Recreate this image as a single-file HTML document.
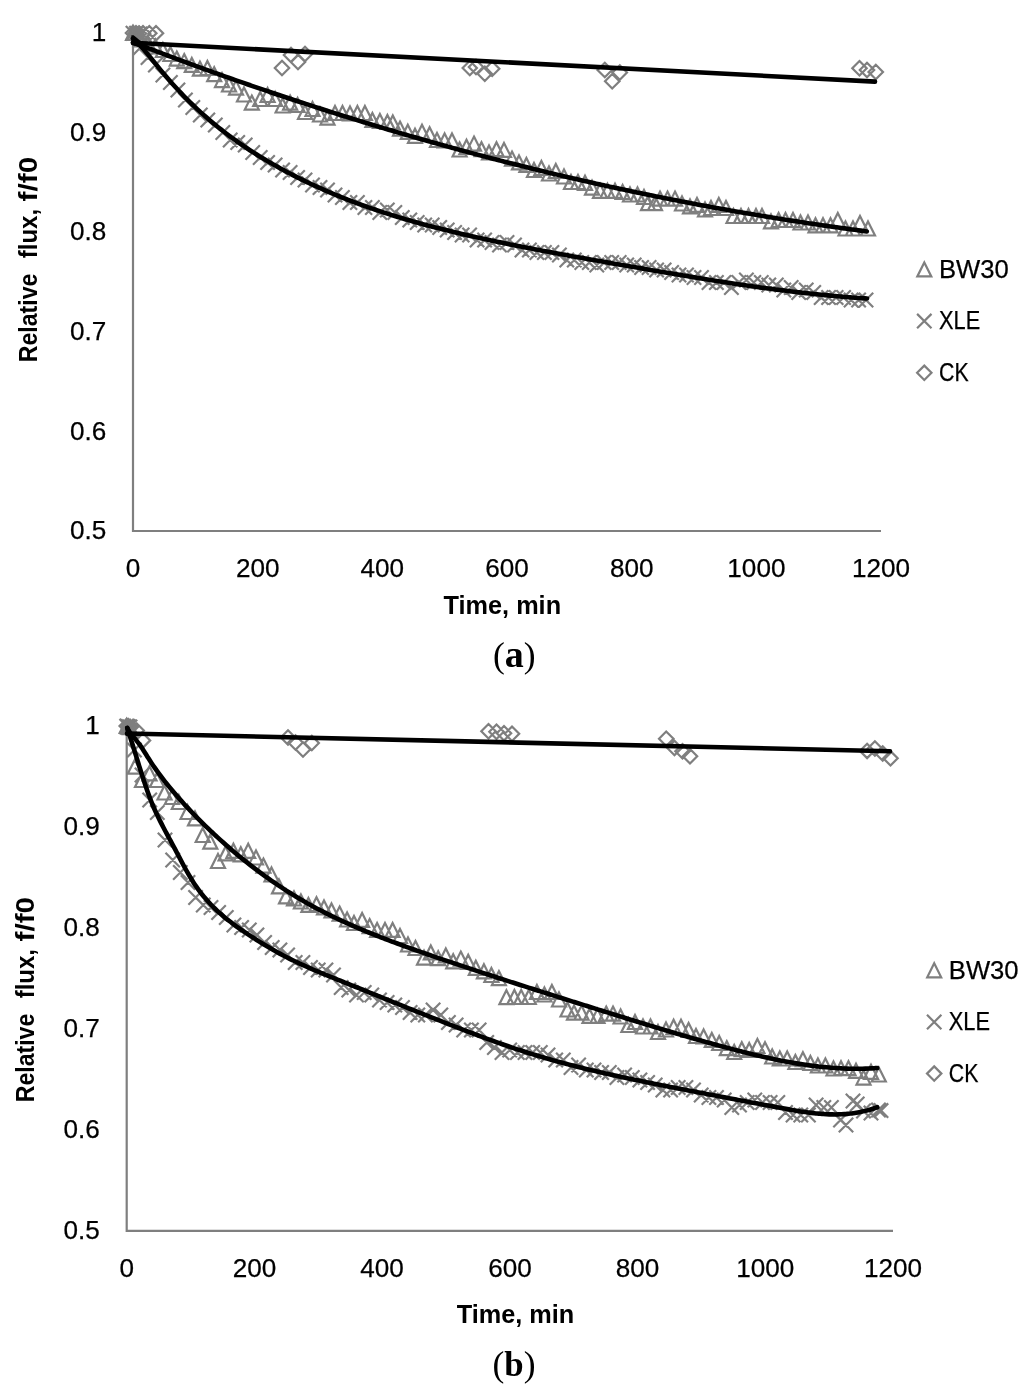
<!DOCTYPE html>
<html lang="en">
<head>
<meta charset="utf-8">
<title>Relative flux vs time</title>
<style>
html,body{margin:0;padding:0;background:#fff;}
body{width:1024px;height:1398px;overflow:hidden;}
svg{display:block;}
.mk{fill:none;stroke:#7f7f7f;stroke-width:2.2;stroke-linejoin:miter;stroke-linecap:butt;}
.ln{fill:none;stroke:#000;stroke-width:4.6;stroke-linecap:round;stroke-linejoin:round;}
.tk{font-family:"Liberation Sans",sans-serif;font-size:26.1px;fill:#000;stroke:#000;stroke-width:0.25;}
.tt{font-family:"Liberation Sans",sans-serif;font-size:25.1px;font-weight:bold;fill:#000;}
.cp{font-family:"Liberation Serif",serif;font-size:35.5px;fill:#000;}
.cb{font-weight:bold;}
</style>
</head>
<body>
<svg width="1024" height="1398" viewBox="0 0 1024 1398">
<rect width="1024" height="1398" fill="#fff"/>
<g id="chart-a">
<path d="M133.00 33.20 V531.00 H881.00" fill="none" stroke="#7f7f7f" stroke-width="2.2" stroke-linejoin="miter"/>
<path class="mk" d="M133.0 26.0 L140.0 40.0 L126.0 40.0 Z M140.5 32.5 L147.5 46.5 L133.5 46.5 Z M148.0 36.0 L155.0 50.0 L141.0 50.0 Z M155.4 39.5 L162.4 53.5 L148.4 53.5 Z M162.9 43.0 L169.9 57.0 L155.9 57.0 Z M170.4 47.0 L177.4 61.0 L163.4 61.0 Z M176.8 51.6 L183.8 65.6 L169.8 65.6 Z M184.2 54.1 L191.2 68.1 L177.2 68.1 Z M191.8 57.9 L198.8 71.9 L184.8 71.9 Z M199.9 61.6 L206.9 75.6 L192.9 75.6 Z M207.4 61.0 L214.4 75.0 L200.4 75.0 Z M214.2 67.2 L221.2 81.2 L207.2 81.2 Z M222.0 73.1 L229.0 87.1 L215.0 87.1 Z M229.0 77.5 L236.0 91.5 L222.0 91.5 Z M236.0 80.6 L243.0 94.6 L229.0 94.6 Z M244.0 87.5 L251.0 101.5 L237.0 101.5 Z M251.8 95.6 L258.8 109.6 L244.8 109.6 Z M260.2 92.0 L267.2 106.0 L253.2 106.0 Z M267.6 88.0 L274.6 102.0 L260.6 102.0 Z M275.1 92.0 L282.1 106.0 L268.1 106.0 Z M282.6 98.5 L289.6 112.5 L275.6 112.5 Z M290.1 95.6 L297.1 109.6 L283.1 109.6 Z M297.6 98.0 L304.6 112.0 L290.6 112.0 Z M305.0 105.0 L312.0 119.0 L298.0 119.0 Z M312.5 102.0 L319.5 116.0 L305.5 116.0 Z M320.0 107.5 L327.0 121.5 L313.0 121.5 Z M327.5 110.6 L334.5 124.6 L320.5 124.6 Z M335.0 106.0 L342.0 120.0 L328.0 120.0 Z M342.5 106.0 L349.5 120.0 L335.5 120.0 Z M350.0 106.5 L357.0 120.5 L343.0 120.5 Z M357.4 106.0 L364.4 120.0 L350.4 120.0 Z M364.9 106.0 L371.9 120.0 L357.9 120.0 Z M372.4 113.0 L379.4 127.0 L365.4 127.0 Z M379.9 114.0 L386.9 128.0 L372.9 128.0 Z M387.4 115.0 L394.4 129.0 L380.4 129.0 Z M392.8 115.4 L399.8 129.4 L385.8 129.4 Z M400.0 121.6 L407.0 135.6 L393.0 135.6 Z M407.8 124.8 L414.8 138.8 L400.8 138.8 Z M415.0 128.8 L422.0 142.8 L408.0 142.8 Z M422.0 124.8 L429.0 138.8 L415.0 138.8 Z M429.6 127.2 L436.6 141.2 L422.6 141.2 Z M437.0 133.0 L444.0 147.0 L430.0 147.0 Z M444.6 133.5 L451.6 147.5 L437.6 147.5 Z M452.0 133.5 L459.0 147.5 L445.0 147.5 Z M459.6 142.5 L466.6 156.5 L452.6 156.5 Z M466.5 139.8 L473.5 153.8 L459.5 153.8 Z M474.0 136.6 L481.0 150.6 L467.0 150.6 Z M481.5 142.2 L488.5 156.2 L474.5 156.2 Z M489.0 145.4 L496.0 159.4 L482.0 159.4 Z M496.5 142.2 L503.5 156.2 L489.5 156.2 Z M504.0 142.9 L511.0 156.9 L497.0 156.9 Z M512.0 151.6 L519.0 165.6 L505.0 165.6 Z M519.0 155.4 L526.0 169.4 L512.0 169.4 Z M526.4 157.9 L533.4 171.9 L519.4 171.9 Z M534.0 163.0 L541.0 177.0 L527.0 177.0 Z M541.4 161.0 L548.4 175.0 L534.4 175.0 Z M549.0 166.5 L556.0 180.5 L542.0 180.5 Z M555.8 164.0 L562.8 178.0 L548.8 178.0 Z M564.0 169.5 L571.0 183.5 L557.0 183.5 Z M571.0 175.0 L578.0 189.0 L564.0 189.0 Z M578.0 175.0 L585.0 189.0 L571.0 189.0 Z M585.0 175.8 L592.0 189.8 L578.0 189.8 Z M592.0 180.6 L599.0 194.6 L585.0 194.6 Z M600.0 183.8 L607.0 197.8 L593.0 197.8 Z M607.5 183.8 L614.5 197.8 L600.5 197.8 Z M615.0 183.8 L622.0 197.8 L608.0 197.8 Z M622.6 185.0 L629.6 199.0 L615.6 199.0 Z M630.0 187.5 L637.0 201.5 L623.0 201.5 Z M637.5 187.5 L644.5 201.5 L630.5 201.5 Z M644.0 190.0 L651.0 204.0 L637.0 204.0 Z M648.0 196.2 L655.0 210.2 L641.0 210.2 Z M655.0 196.2 L662.0 210.2 L648.0 210.2 Z M660.0 191.6 L667.0 205.6 L653.0 205.6 Z M667.5 191.6 L674.5 205.6 L660.5 205.6 Z M675.0 191.6 L682.0 205.6 L668.0 205.6 Z M682.0 196.5 L689.0 210.5 L675.0 210.5 Z M690.0 199.4 L697.0 213.4 L683.0 213.4 Z M697.0 197.9 L704.0 211.9 L690.0 211.9 Z M705.0 202.5 L712.0 216.5 L698.0 216.5 Z M711.0 201.0 L718.0 215.0 L704.0 215.0 Z M718.8 197.9 L725.8 211.9 L711.8 211.9 Z M726.0 201.0 L733.0 215.0 L719.0 215.0 Z M733.5 209.0 L740.5 223.0 L726.5 223.0 Z M741.0 209.0 L748.0 223.0 L734.0 223.0 Z M748.5 209.0 L755.5 223.0 L741.5 223.0 Z M756.0 209.0 L763.0 223.0 L749.0 223.0 Z M762.0 209.0 L769.0 223.0 L755.0 223.0 Z M771.0 214.4 L778.0 228.4 L764.0 228.4 Z M778.6 213.0 L785.6 227.0 L771.6 227.0 Z M785.5 213.0 L792.5 227.0 L778.5 227.0 Z M793.0 213.0 L800.0 227.0 L786.0 227.0 Z M800.5 215.5 L807.5 229.5 L793.5 229.5 Z M808.0 215.5 L815.0 229.5 L801.0 229.5 Z M815.5 218.3 L822.5 232.3 L808.5 232.3 Z M823.0 218.3 L830.0 232.3 L816.0 232.3 Z M830.5 218.3 L837.5 232.3 L823.5 232.3 Z M837.8 213.0 L844.8 227.0 L830.8 227.0 Z M845.5 221.5 L852.5 235.5 L838.5 235.5 Z M853.0 221.5 L860.0 235.5 L846.0 235.5 Z M860.0 216.0 L867.0 230.0 L853.0 230.0 Z M868.0 221.5 L875.0 235.5 L861.0 235.5 Z"/>
<path class="mk" d="M125.8 26.0 L140.2 40.4 M125.8 40.4 L140.2 26.0 M133.3 40.3 L147.7 54.7 M133.3 54.7 L147.7 40.3 M140.8 50.3 L155.2 64.7 M140.8 64.7 L155.2 50.3 M148.2 57.8 L162.6 72.2 M148.2 72.2 L162.6 57.8 M155.7 67.8 L170.1 82.2 M155.7 82.2 L170.1 67.8 M163.2 75.3 L177.6 89.7 M163.2 89.7 L177.6 75.3 M170.7 82.8 L185.1 97.2 M170.7 97.2 L185.1 82.8 M178.2 92.8 L192.6 107.2 M178.2 107.2 L192.6 92.8 M185.6 100.3 L200.0 114.7 M185.6 114.7 L200.0 100.3 M193.1 107.8 L207.5 122.2 M193.1 122.2 L207.5 107.8 M200.6 112.8 L215.0 127.2 M200.6 127.2 L215.0 112.8 M208.1 117.8 L222.5 132.2 M208.1 132.2 L222.5 117.8 M215.6 125.3 L230.0 139.7 M215.6 139.7 L230.0 125.3 M223.0 132.8 L237.4 147.2 M223.0 147.2 L237.4 132.8 M230.5 135.3 L244.9 149.7 M230.5 149.7 L244.9 135.3 M238.0 137.8 L252.4 152.2 M238.0 152.2 L252.4 137.8 M245.5 145.3 L259.9 159.7 M245.5 159.7 L259.9 145.3 M253.0 150.3 L267.4 164.7 M253.0 164.7 L267.4 150.3 M260.4 155.3 L274.8 169.7 M260.4 169.7 L274.8 155.3 M267.9 157.8 L282.3 172.2 M267.9 172.2 L282.3 157.8 M275.4 162.8 L289.8 177.2 M275.4 177.2 L289.8 162.8 M282.9 165.3 L297.3 179.7 M282.9 179.7 L297.3 165.3 M290.4 170.3 L304.8 184.7 M290.4 184.7 L304.8 170.3 M297.8 172.8 L312.2 187.2 M297.8 187.2 L312.2 172.8 M305.3 177.8 L319.7 192.2 M305.3 192.2 L319.7 177.8 M312.8 180.3 L327.2 194.7 M312.8 194.7 L327.2 180.3 M320.3 182.8 L334.7 197.2 M320.3 197.2 L334.7 182.8 M327.8 187.8 L342.2 202.2 M327.8 202.2 L342.2 187.8 M335.2 190.3 L349.6 204.7 M335.2 204.7 L349.6 190.3 M342.7 195.3 L357.1 209.7 M342.7 209.7 L357.1 195.3 M350.2 195.3 L364.6 209.7 M350.2 209.7 L364.6 195.3 M357.7 200.3 L372.1 214.7 M357.7 214.7 L372.1 200.3 M365.2 200.3 L379.6 214.7 M365.2 214.7 L379.6 200.3 M372.6 205.3 L387.0 219.7 M372.6 219.7 L387.0 205.3 M380.1 202.8 L394.5 217.2 M380.1 217.2 L394.5 202.8 M387.6 205.3 L402.0 219.7 M387.6 219.7 L402.0 205.3 M395.1 210.3 L409.5 224.7 M395.1 224.7 L409.5 210.3 M402.6 212.8 L417.0 227.2 M402.6 227.2 L417.0 212.8 M410.0 215.3 L424.4 229.7 M410.0 229.7 L424.4 215.3 M417.5 217.8 L431.9 232.2 M417.5 232.2 L431.9 217.8 M425.0 217.8 L439.4 232.2 M425.0 232.2 L439.4 217.8 M432.5 220.3 L446.9 234.7 M432.5 234.7 L446.9 220.3 M440.0 222.8 L454.4 237.2 M440.0 237.2 L454.4 222.8 M447.4 225.3 L461.8 239.7 M447.4 239.7 L461.8 225.3 M454.9 227.8 L469.3 242.2 M454.9 242.2 L469.3 227.8 M462.4 227.8 L476.8 242.2 M462.4 242.2 L476.8 227.8 M469.9 232.8 L484.3 247.2 M469.9 247.2 L484.3 232.8 M477.4 232.8 L491.8 247.2 M477.4 247.2 L491.8 232.8 M484.8 235.3 L499.2 249.7 M484.8 249.7 L499.2 235.3 M492.3 237.8 L506.7 252.2 M492.3 252.2 L506.7 237.8 M499.8 235.3 L514.2 249.7 M499.8 249.7 L514.2 235.3 M507.3 237.8 L521.7 252.2 M507.3 252.2 L521.7 237.8 M514.8 242.8 L529.2 257.2 M514.8 257.2 L529.2 242.8 M522.2 242.8 L536.6 257.2 M522.2 257.2 L536.6 242.8 M529.7 245.3 L544.1 259.7 M529.7 259.7 L544.1 245.3 M537.2 245.3 L551.6 259.7 M537.2 259.7 L551.6 245.3 M544.7 245.3 L559.1 259.7 M544.7 259.7 L559.1 245.3 M552.2 247.8 L566.6 262.2 M552.2 262.2 L566.6 247.8 M559.6 252.8 L574.0 267.2 M559.6 267.2 L574.0 252.8 M567.1 252.8 L581.5 267.2 M567.1 267.2 L581.5 252.8 M574.6 255.3 L589.0 269.7 M574.6 269.7 L589.0 255.3 M582.1 255.3 L596.5 269.7 M582.1 269.7 L596.5 255.3 M589.6 257.8 L604.0 272.2 M589.6 272.2 L604.0 257.8 M597.0 255.3 L611.4 269.7 M597.0 269.7 L611.4 255.3 M604.5 255.3 L618.9 269.7 M604.5 269.7 L618.9 255.3 M612.0 255.3 L626.4 269.7 M612.0 269.7 L626.4 255.3 M619.5 257.8 L633.9 272.2 M619.5 272.2 L633.9 257.8 M627.0 257.8 L641.4 272.2 M627.0 272.2 L641.4 257.8 M634.4 260.3 L648.8 274.7 M634.4 274.7 L648.8 260.3 M641.9 260.3 L656.3 274.7 M641.9 274.7 L656.3 260.3 M649.4 262.8 L663.8 277.2 M649.4 277.2 L663.8 262.8 M656.9 262.8 L671.3 277.2 M656.9 277.2 L671.3 262.8 M664.4 265.3 L678.8 279.7 M664.4 279.7 L678.8 265.3 M671.8 267.8 L686.2 282.2 M671.8 282.2 L686.2 267.8 M679.3 267.8 L693.7 282.2 M679.3 282.2 L693.7 267.8 M686.8 270.3 L701.2 284.7 M686.8 284.7 L701.2 270.3 M694.3 270.3 L708.7 284.7 M694.3 284.7 L708.7 270.3 M701.8 275.3 L716.2 289.7 M701.8 289.7 L716.2 275.3 M709.2 275.3 L723.6 289.7 M709.2 289.7 L723.6 275.3 M716.7 275.3 L731.1 289.7 M716.7 289.7 L731.1 275.3 M724.2 280.3 L738.6 294.7 M724.2 294.7 L738.6 280.3 M731.7 275.3 L746.1 289.7 M731.7 289.7 L746.1 275.3 M739.2 272.8 L753.6 287.2 M739.2 287.2 L753.6 272.8 M746.6 275.3 L761.0 289.7 M746.6 289.7 L761.0 275.3 M754.1 275.3 L768.5 289.7 M754.1 289.7 L768.5 275.3 M761.6 277.8 L776.0 292.2 M761.6 292.2 L776.0 277.8 M769.1 277.8 L783.5 292.2 M769.1 292.2 L783.5 277.8 M776.6 282.8 L791.0 297.2 M776.6 297.2 L791.0 282.8 M784.0 280.3 L798.4 294.7 M784.0 294.7 L798.4 280.3 M791.5 285.3 L805.9 299.7 M791.5 299.7 L805.9 285.3 M799.0 282.8 L813.4 297.2 M799.0 297.2 L813.4 282.8 M806.5 285.3 L820.9 299.7 M806.5 299.7 L820.9 285.3 M814.0 290.3 L828.4 304.7 M814.0 304.7 L828.4 290.3 M821.4 290.3 L835.8 304.7 M821.4 304.7 L835.8 290.3 M828.9 290.3 L843.3 304.7 M828.9 304.7 L843.3 290.3 M836.4 290.3 L850.8 304.7 M836.4 304.7 L850.8 290.3 M843.9 292.8 L858.3 307.2 M843.9 307.2 L858.3 292.8 M851.4 292.8 L865.8 307.2 M851.4 307.2 L865.8 292.8 M858.8 292.8 L873.2 307.2 M858.8 307.2 L873.2 292.8 M129.3 26.0 L143.7 40.4 M129.3 40.4 L143.7 26.0 M132.8 26.8 L147.2 41.2 M132.8 41.2 L147.2 26.8"/>
<path class="mk" d="M133.0 25.8 L140.2 33.0 L133.0 40.2 L125.8 33.0 Z M136.0 26.0 L143.2 33.2 L136.0 40.4 L128.8 33.2 Z M139.0 26.3 L146.2 33.5 L139.0 40.7 L131.8 33.5 Z M143.0 26.1 L150.2 33.3 L143.0 40.5 L135.8 33.3 Z M149.3 26.0 L156.5 33.2 L149.3 40.4 L142.1 33.2 Z M156.0 26.0 L163.2 33.2 L156.0 40.4 L148.8 33.2 Z M282.0 60.8 L289.2 68.0 L282.0 75.2 L274.8 68.0 Z M291.0 47.8 L298.2 55.0 L291.0 62.2 L283.8 55.0 Z M298.0 54.8 L305.2 62.0 L298.0 69.2 L290.8 62.0 Z M305.0 46.8 L312.2 54.0 L305.0 61.2 L297.8 54.0 Z M469.8 60.8 L476.9 68.0 L469.8 75.2 L462.6 68.0 Z M476.0 59.8 L483.2 67.0 L476.0 74.2 L468.8 67.0 Z M484.8 66.5 L491.9 73.8 L484.8 81.0 L477.6 73.8 Z M492.2 61.5 L499.4 68.8 L492.2 76.0 L485.1 68.8 Z M604.8 62.8 L612.0 70.0 L604.8 77.2 L597.5 70.0 Z M612.2 74.0 L619.5 81.2 L612.2 88.5 L605.0 81.2 Z M619.8 65.3 L627.0 72.5 L619.8 79.7 L612.5 72.5 Z M859.5 61.0 L866.7 68.2 L859.5 75.5 L852.3 68.2 Z M867.0 62.8 L874.2 70.0 L867.0 77.2 L859.8 70.0 Z M875.8 64.8 L883.0 72.0 L875.8 79.2 L868.5 72.0 Z"/>
<path class="ln" d="M133.00 42.80 L875.00 81.60"/>
<path class="ln" d="M133.00 42.54 C133.50 42.72 135.00 43.25 136.01 43.61 C137.01 43.97 138.01 44.35 139.01 44.72 C140.02 45.09 141.02 45.47 142.02 45.85 C143.02 46.22 144.03 46.60 145.03 46.98 C146.03 47.36 147.03 47.74 148.04 48.12 C149.04 48.50 150.04 48.88 151.04 49.26 C152.05 49.64 153.05 50.02 154.05 50.40 C155.05 50.78 156.06 51.16 157.06 51.54 C158.06 51.92 159.06 52.29 160.07 52.67 C161.07 53.05 162.07 53.43 163.07 53.81 C164.08 54.19 165.08 54.56 166.08 54.94 C167.08 55.32 168.09 55.69 169.09 56.07 C170.09 56.45 171.09 56.82 172.10 57.20 C173.10 57.57 174.10 57.95 175.10 58.32 C176.11 58.69 177.11 59.07 178.11 59.44 C179.11 59.81 180.12 60.18 181.12 60.56 C182.12 60.93 183.12 61.30 184.13 61.67 C185.13 62.04 186.13 62.41 187.13 62.78 C188.14 63.15 189.14 63.52 190.14 63.89 C191.14 64.25 192.15 64.62 193.15 64.99 C194.15 65.35 195.15 65.72 196.15 66.09 C197.16 66.45 198.16 66.82 199.16 67.18 C200.16 67.55 201.17 67.91 202.17 68.27 C203.17 68.64 204.17 69.00 205.18 69.36 C206.18 69.73 207.18 70.09 208.18 70.45 C209.19 70.81 210.19 71.17 211.19 71.53 C212.19 71.89 213.20 72.25 214.20 72.61 C215.20 72.97 216.20 73.32 217.21 73.68 C218.21 74.04 219.21 74.40 220.21 74.75 C221.22 75.11 222.22 75.47 223.22 75.82 C224.22 76.18 225.23 76.53 226.23 76.89 C227.23 77.24 228.23 77.59 229.24 77.95 C230.24 78.30 231.24 78.65 232.24 79.00 C233.25 79.36 234.25 79.71 235.25 80.06 C236.25 80.41 237.26 80.76 238.26 81.11 C239.26 81.46 240.26 81.81 241.27 82.16 C242.27 82.51 243.27 82.85 244.27 83.20 C245.28 83.55 246.28 83.90 247.28 84.24 C248.28 84.59 249.29 84.93 250.29 85.28 C251.29 85.63 252.29 85.97 253.30 86.31 C254.30 86.66 255.30 87.00 256.30 87.35 C257.30 87.69 258.31 88.03 259.31 88.37 C260.31 88.72 261.31 89.06 262.32 89.40 C263.32 89.74 264.32 90.08 265.32 90.42 C266.33 90.76 267.33 91.10 268.33 91.44 C269.33 91.78 270.34 92.12 271.34 92.46 C272.34 92.79 273.34 93.13 274.35 93.47 C275.35 93.81 276.35 94.14 277.35 94.48 C278.36 94.82 279.36 95.15 280.36 95.49 C281.36 95.82 282.37 96.16 283.37 96.49 C284.37 96.82 285.37 97.16 286.38 97.49 C287.38 97.82 288.38 98.16 289.38 98.49 C290.39 98.82 291.39 99.15 292.39 99.48 C293.39 99.82 294.40 100.15 295.40 100.48 C296.40 100.81 297.40 101.14 298.41 101.47 C299.41 101.79 300.41 102.12 301.41 102.45 C302.42 102.78 303.42 103.11 304.42 103.43 C305.42 103.76 306.43 104.09 307.43 104.41 C308.43 104.74 309.43 105.07 310.44 105.39 C311.44 105.72 312.44 106.04 313.44 106.37 C314.45 106.69 315.45 107.01 316.45 107.34 C317.45 107.66 318.45 107.98 319.46 108.30 C320.46 108.63 321.46 108.95 322.46 109.27 C323.47 109.59 324.47 109.91 325.47 110.23 C326.47 110.55 327.48 110.87 328.48 111.19 C329.48 111.51 330.48 111.83 331.49 112.14 C332.49 112.46 333.49 112.78 334.49 113.10 C335.50 113.41 336.50 113.73 337.50 114.05 C338.50 114.36 339.51 114.68 340.51 114.99 C341.51 115.31 342.51 115.62 343.52 115.93 C344.52 116.25 345.52 116.56 346.52 116.87 C347.53 117.19 348.53 117.50 349.53 117.81 C350.53 118.12 351.54 118.43 352.54 118.74 C353.54 119.05 354.54 119.36 355.55 119.67 C356.55 119.98 357.55 120.29 358.55 120.60 C359.56 120.91 360.56 121.21 361.56 121.52 C362.56 121.83 363.57 122.13 364.57 122.44 C365.57 122.75 366.57 123.05 367.58 123.36 C368.58 123.66 369.58 123.97 370.58 124.27 C371.59 124.57 372.59 124.88 373.59 125.18 C374.59 125.48 375.60 125.79 376.60 126.09 C377.60 126.39 378.60 126.69 379.60 126.99 C380.61 127.29 381.61 127.59 382.61 127.89 C383.61 128.19 384.62 128.49 385.62 128.79 C386.62 129.09 387.62 129.39 388.63 129.68 C389.63 129.98 390.63 130.28 391.63 130.57 C392.64 130.87 393.64 131.17 394.64 131.46 C395.64 131.76 396.65 132.05 397.65 132.35 C398.65 132.64 399.65 132.93 400.66 133.23 C401.66 133.52 402.66 133.81 403.66 134.10 C404.67 134.40 405.67 134.69 406.67 134.98 C407.67 135.27 408.68 135.56 409.68 135.85 C410.68 136.14 411.68 136.43 412.69 136.72 C413.69 137.01 414.69 137.30 415.69 137.58 C416.70 137.87 417.70 138.16 418.70 138.44 C419.70 138.73 420.71 139.02 421.71 139.30 C422.71 139.59 423.71 139.87 424.72 140.16 C425.72 140.44 426.72 140.73 427.72 141.01 C428.73 141.29 429.73 141.58 430.73 141.86 C431.73 142.14 432.74 142.42 433.74 142.70 C434.74 142.99 435.74 143.27 436.75 143.55 C437.75 143.83 438.75 144.11 439.75 144.39 C440.75 144.66 441.76 144.94 442.76 145.22 C443.76 145.50 444.76 145.78 445.77 146.05 C446.77 146.33 447.77 146.61 448.77 146.88 C449.78 147.16 450.78 147.43 451.78 147.71 C452.78 147.98 453.79 148.26 454.79 148.53 C455.79 148.81 456.79 149.08 457.80 149.35 C458.80 149.63 459.80 149.90 460.80 150.17 C461.81 150.44 462.81 150.71 463.81 150.98 C464.81 151.25 465.82 151.52 466.82 151.79 C467.82 152.06 468.82 152.33 469.83 152.60 C470.83 152.87 471.83 153.14 472.83 153.40 C473.84 153.67 474.84 153.94 475.84 154.21 C476.84 154.47 477.85 154.74 478.85 155.00 C479.85 155.27 480.85 155.53 481.86 155.80 C482.86 156.06 483.86 156.33 484.86 156.59 C485.87 156.85 486.87 157.11 487.87 157.38 C488.87 157.64 489.88 157.90 490.88 158.16 C491.88 158.42 492.88 158.68 493.89 158.94 C494.89 159.20 495.89 159.46 496.89 159.72 C497.90 159.98 498.90 160.24 499.90 160.50 C500.90 160.76 501.90 161.01 502.91 161.27 C503.91 161.53 504.91 161.78 505.91 162.04 C506.92 162.30 507.92 162.55 508.92 162.81 C509.92 163.06 510.93 163.32 511.93 163.57 C512.93 163.82 513.93 164.08 514.94 164.33 C515.94 164.58 516.94 164.83 517.94 165.09 C518.95 165.34 519.95 165.59 520.95 165.84 C521.95 166.09 522.96 166.34 523.96 166.59 C524.96 166.84 525.96 167.09 526.97 167.34 C527.97 167.58 528.97 167.83 529.97 168.08 C530.98 168.33 531.98 168.57 532.98 168.82 C533.98 169.07 534.99 169.31 535.99 169.56 C536.99 169.80 537.99 170.05 539.00 170.29 C540.00 170.54 541.00 170.78 542.00 171.02 C543.01 171.27 544.01 171.51 545.01 171.75 C546.01 171.99 547.02 172.23 548.02 172.48 C549.02 172.72 550.02 172.96 551.03 173.20 C552.03 173.44 553.03 173.68 554.03 173.92 C555.04 174.15 556.04 174.39 557.04 174.63 C558.04 174.87 559.05 175.11 560.05 175.34 C561.05 175.58 562.05 175.81 563.05 176.05 C564.06 176.29 565.06 176.52 566.06 176.76 C567.06 176.99 568.07 177.22 569.07 177.46 C570.07 177.69 571.07 177.92 572.08 178.16 C573.08 178.39 574.08 178.62 575.08 178.85 C576.09 179.08 577.09 179.32 578.09 179.55 C579.09 179.78 580.10 180.01 581.10 180.24 C582.10 180.46 583.10 180.69 584.11 180.92 C585.11 181.15 586.11 181.38 587.11 181.60 C588.12 181.83 589.12 182.06 590.12 182.28 C591.12 182.51 592.13 182.74 593.13 182.96 C594.13 183.19 595.13 183.41 596.14 183.63 C597.14 183.86 598.14 184.08 599.14 184.30 C600.15 184.53 601.15 184.75 602.15 184.97 C603.15 185.19 604.16 185.41 605.16 185.64 C606.16 185.86 607.16 186.08 608.17 186.30 C609.17 186.52 610.17 186.73 611.17 186.95 C612.18 187.17 613.18 187.39 614.18 187.61 C615.18 187.83 616.19 188.04 617.19 188.26 C618.19 188.48 619.19 188.69 620.20 188.91 C621.20 189.12 622.20 189.34 623.20 189.55 C624.20 189.77 625.21 189.98 626.21 190.19 C627.21 190.41 628.21 190.62 629.22 190.83 C630.22 191.04 631.22 191.26 632.22 191.47 C633.23 191.68 634.23 191.89 635.23 192.10 C636.23 192.31 637.24 192.52 638.24 192.73 C639.24 192.94 640.24 193.15 641.25 193.35 C642.25 193.56 643.25 193.77 644.25 193.98 C645.26 194.18 646.26 194.39 647.26 194.59 C648.26 194.80 649.27 195.01 650.27 195.21 C651.27 195.42 652.27 195.62 653.28 195.82 C654.28 196.03 655.28 196.23 656.28 196.43 C657.29 196.64 658.29 196.84 659.29 197.04 C660.29 197.24 661.30 197.44 662.30 197.64 C663.30 197.84 664.30 198.04 665.31 198.24 C666.31 198.44 667.31 198.64 668.31 198.84 C669.32 199.04 670.32 199.24 671.32 199.44 C672.32 199.63 673.33 199.83 674.33 200.03 C675.33 200.22 676.33 200.42 677.34 200.61 C678.34 200.81 679.34 201.00 680.34 201.20 C681.35 201.39 682.35 201.59 683.35 201.78 C684.35 201.97 685.35 202.17 686.36 202.36 C687.36 202.55 688.36 202.74 689.36 202.93 C690.37 203.12 691.37 203.32 692.37 203.51 C693.37 203.70 694.38 203.89 695.38 204.07 C696.38 204.26 697.38 204.45 698.39 204.64 C699.39 204.83 700.39 205.02 701.39 205.20 C702.40 205.39 703.40 205.58 704.40 205.76 C705.40 205.95 706.41 206.13 707.41 206.32 C708.41 206.50 709.41 206.69 710.42 206.87 C711.42 207.06 712.42 207.24 713.42 207.42 C714.43 207.61 715.43 207.79 716.43 207.97 C717.43 208.15 718.44 208.33 719.44 208.51 C720.44 208.69 721.44 208.87 722.45 209.05 C723.45 209.23 724.45 209.41 725.45 209.59 C726.46 209.77 727.46 209.95 728.46 210.13 C729.46 210.30 730.47 210.48 731.47 210.66 C732.47 210.83 733.47 211.01 734.48 211.19 C735.48 211.36 736.48 211.54 737.48 211.71 C738.49 211.89 739.49 212.06 740.49 212.23 C741.49 212.41 742.50 212.58 743.50 212.75 C744.50 212.93 745.50 213.10 746.50 213.27 C747.51 213.44 748.51 213.61 749.51 213.78 C750.51 213.95 751.52 214.12 752.52 214.29 C753.52 214.46 754.52 214.63 755.53 214.80 C756.53 214.97 757.53 215.14 758.53 215.30 C759.54 215.47 760.54 215.64 761.54 215.80 C762.54 215.97 763.55 216.14 764.55 216.30 C765.55 216.47 766.55 216.63 767.56 216.80 C768.56 216.96 769.56 217.12 770.56 217.29 C771.57 217.45 772.57 217.61 773.57 217.78 C774.57 217.94 775.58 218.10 776.58 218.26 C777.58 218.42 778.58 218.58 779.59 218.74 C780.59 218.90 781.59 219.06 782.59 219.22 C783.60 219.38 784.60 219.54 785.60 219.70 C786.60 219.86 787.61 220.01 788.61 220.17 C789.61 220.33 790.61 220.49 791.62 220.64 C792.62 220.80 793.62 220.95 794.62 221.11 C795.63 221.26 796.63 221.42 797.63 221.57 C798.63 221.73 799.64 221.88 800.64 222.03 C801.64 222.19 802.64 222.34 803.65 222.49 C804.65 222.64 805.65 222.80 806.65 222.95 C807.65 223.10 808.66 223.25 809.66 223.40 C810.66 223.55 811.66 223.70 812.67 223.85 C813.67 224.00 814.67 224.15 815.67 224.29 C816.68 224.44 817.68 224.59 818.68 224.74 C819.68 224.88 820.69 225.03 821.69 225.18 C822.69 225.32 823.69 225.47 824.70 225.61 C825.70 225.76 826.70 225.90 827.70 226.05 C828.71 226.19 829.71 226.33 830.71 226.48 C831.71 226.62 832.72 226.76 833.72 226.91 C834.72 227.05 835.72 227.19 836.73 227.33 C837.73 227.47 838.73 227.61 839.73 227.75 C840.74 227.89 841.74 228.03 842.74 228.17 C843.74 228.31 844.75 228.45 845.75 228.59 C846.75 228.73 847.75 228.86 848.76 229.00 C849.76 229.14 850.76 229.27 851.76 229.41 C852.77 229.55 853.77 229.68 854.77 229.82 C855.77 229.95 856.78 230.09 857.78 230.22 C858.78 230.36 859.78 230.49 860.79 230.62 C861.79 230.76 862.79 230.89 863.79 231.02 C864.80 231.15 866.30 231.35 866.80 231.42"/>
<path class="ln" d="M133.00 38.56 C133.50 39.01 135.01 40.31 136.01 41.27 C137.01 42.23 138.01 43.26 139.02 44.31 C140.02 45.36 141.02 46.45 142.02 47.57 C143.03 48.69 144.03 49.84 145.03 51.01 C146.04 52.18 147.04 53.39 148.04 54.60 C149.04 55.81 150.05 57.05 151.05 58.28 C152.05 59.50 153.05 60.75 154.06 61.98 C155.06 63.21 156.06 64.45 157.07 65.68 C158.07 66.91 159.07 68.13 160.07 69.35 C161.08 70.56 162.08 71.77 163.08 72.97 C164.08 74.16 165.09 75.35 166.09 76.53 C167.09 77.70 168.10 78.87 169.10 80.02 C170.10 81.17 171.10 82.30 172.11 83.43 C173.11 84.55 174.11 85.66 175.11 86.76 C176.12 87.86 177.12 88.94 178.12 90.01 C179.13 91.09 180.13 92.15 181.13 93.20 C182.13 94.25 183.14 95.28 184.14 96.31 C185.14 97.34 186.14 98.35 187.15 99.36 C188.15 100.36 189.15 101.35 190.16 102.34 C191.16 103.32 192.16 104.29 193.16 105.25 C194.17 106.21 195.17 107.16 196.17 108.11 C197.17 109.05 198.18 109.98 199.18 110.90 C200.18 111.82 201.19 112.73 202.19 113.63 C203.19 114.53 204.19 115.43 205.20 116.31 C206.20 117.19 207.20 118.07 208.20 118.93 C209.21 119.79 210.21 120.65 211.21 121.50 C212.22 122.34 213.22 123.18 214.22 124.01 C215.22 124.84 216.23 125.66 217.23 126.47 C218.23 127.28 219.23 128.08 220.24 128.87 C221.24 129.67 222.24 130.45 223.25 131.23 C224.25 132.01 225.25 132.78 226.25 133.54 C227.26 134.30 228.26 135.05 229.26 135.80 C230.27 136.55 231.27 137.29 232.27 138.02 C233.27 138.75 234.28 139.47 235.28 140.19 C236.28 140.91 237.28 141.62 238.29 142.32 C239.29 143.03 240.29 143.72 241.30 144.41 C242.30 145.10 243.30 145.79 244.30 146.47 C245.31 147.14 246.31 147.81 247.31 148.48 C248.31 149.15 249.32 149.80 250.32 150.46 C251.32 151.11 252.33 151.76 253.33 152.40 C254.33 153.04 255.33 153.68 256.34 154.31 C257.34 154.94 258.34 155.57 259.34 156.19 C260.35 156.80 261.35 157.42 262.35 158.03 C263.36 158.64 264.36 159.24 265.36 159.84 C266.36 160.44 267.37 161.03 268.37 161.62 C269.37 162.21 270.37 162.79 271.38 163.37 C272.38 163.95 273.38 164.53 274.39 165.09 C275.39 165.66 276.39 166.23 277.39 166.79 C278.40 167.35 279.40 167.90 280.40 168.46 C281.40 169.01 282.41 169.55 283.41 170.10 C284.41 170.64 285.42 171.18 286.42 171.71 C287.42 172.24 288.42 172.77 289.43 173.30 C290.43 173.82 291.43 174.34 292.43 174.86 C293.44 175.38 294.44 175.89 295.44 176.40 C296.45 176.91 297.45 177.41 298.45 177.91 C299.45 178.41 300.46 178.91 301.46 179.40 C302.46 179.90 303.46 180.39 304.47 180.87 C305.47 181.36 306.47 181.84 307.48 182.32 C308.48 182.79 309.48 183.27 310.48 183.74 C311.49 184.21 312.49 184.68 313.49 185.14 C314.49 185.60 315.50 186.06 316.50 186.52 C317.50 186.98 318.51 187.43 319.51 187.88 C320.51 188.33 321.51 188.78 322.52 189.22 C323.52 189.66 324.52 190.10 325.52 190.54 C326.53 190.97 327.53 191.41 328.53 191.84 C329.54 192.27 330.54 192.69 331.54 193.12 C332.54 193.54 333.55 193.96 334.55 194.38 C335.55 194.79 336.55 195.21 337.56 195.62 C338.56 196.03 339.56 196.44 340.57 196.84 C341.57 197.25 342.57 197.65 343.57 198.05 C344.58 198.45 345.58 198.84 346.58 199.24 C347.58 199.63 348.59 200.02 349.59 200.41 C350.59 200.79 351.60 201.18 352.60 201.56 C353.60 201.94 354.60 202.32 355.61 202.69 C356.61 203.07 357.61 203.44 358.61 203.81 C359.62 204.18 360.62 204.55 361.62 204.91 C362.63 205.28 363.63 205.64 364.63 206.00 C365.63 206.36 366.64 206.72 367.64 207.07 C368.64 207.42 369.64 207.77 370.65 208.12 C371.65 208.47 372.65 208.82 373.66 209.16 C374.66 209.50 375.66 209.85 376.66 210.18 C377.67 210.52 378.67 210.86 379.67 211.19 C380.67 211.52 381.68 211.86 382.68 212.18 C383.68 212.51 384.69 212.84 385.69 213.16 C386.69 213.49 387.69 213.81 388.70 214.12 C389.70 214.44 390.70 214.76 391.70 215.07 C392.71 215.39 393.71 215.70 394.71 216.01 C395.72 216.32 396.72 216.62 397.72 216.93 C398.72 217.23 399.73 217.54 400.73 217.84 C401.73 218.14 402.73 218.43 403.74 218.73 C404.74 219.03 405.74 219.32 406.75 219.61 C407.75 219.90 408.75 220.19 409.75 220.48 C410.76 220.77 411.76 221.06 412.76 221.34 C413.77 221.62 414.77 221.91 415.77 222.19 C416.77 222.47 417.78 222.75 418.78 223.02 C419.78 223.30 420.78 223.57 421.79 223.85 C422.79 224.12 423.79 224.39 424.80 224.66 C425.80 224.93 426.80 225.20 427.80 225.46 C428.81 225.73 429.81 225.99 430.81 226.26 C431.81 226.52 432.82 226.78 433.82 227.04 C434.82 227.30 435.83 227.56 436.83 227.82 C437.83 228.07 438.83 228.33 439.84 228.58 C440.84 228.83 441.84 229.09 442.84 229.34 C443.85 229.59 444.85 229.84 445.85 230.08 C446.86 230.33 447.86 230.58 448.86 230.82 C449.86 231.07 450.87 231.31 451.87 231.55 C452.87 231.80 453.87 232.04 454.88 232.28 C455.88 232.52 456.88 232.76 457.89 232.99 C458.89 233.23 459.89 233.47 460.89 233.70 C461.90 233.93 462.90 234.17 463.90 234.40 C464.90 234.63 465.91 234.86 466.91 235.09 C467.91 235.32 468.92 235.55 469.92 235.78 C470.92 236.01 471.92 236.23 472.93 236.46 C473.93 236.68 474.93 236.91 475.93 237.13 C476.94 237.36 477.94 237.58 478.94 237.80 C479.95 238.02 480.95 238.24 481.95 238.46 C482.95 238.68 483.96 238.90 484.96 239.11 C485.96 239.33 486.96 239.55 487.97 239.76 C488.97 239.98 489.97 240.19 490.98 240.41 C491.98 240.62 492.98 240.83 493.98 241.04 C494.99 241.26 495.99 241.47 496.99 241.68 C497.99 241.89 499.00 242.10 500.00 242.30 C501.00 242.51 502.01 242.72 503.01 242.93 C504.01 243.13 505.01 243.34 506.02 243.55 C507.02 243.75 508.02 243.95 509.02 244.16 C510.03 244.36 511.03 244.56 512.03 244.77 C513.04 244.97 514.04 245.17 515.04 245.37 C516.04 245.57 517.05 245.77 518.05 245.97 C519.05 246.17 520.05 246.37 521.06 246.57 C522.06 246.77 523.06 246.96 524.07 247.16 C525.07 247.36 526.07 247.55 527.07 247.75 C528.08 247.94 529.08 248.14 530.08 248.33 C531.08 248.53 532.09 248.72 533.09 248.91 C534.09 249.11 535.10 249.30 536.10 249.49 C537.10 249.68 538.10 249.88 539.11 250.07 C540.11 250.26 541.11 250.45 542.11 250.64 C543.12 250.83 544.12 251.02 545.12 251.21 C546.13 251.39 547.13 251.58 548.13 251.77 C549.13 251.96 550.14 252.15 551.14 252.33 C552.14 252.52 553.14 252.71 554.15 252.89 C555.15 253.08 556.15 253.26 557.16 253.45 C558.16 253.64 559.16 253.82 560.16 254.00 C561.17 254.19 562.17 254.37 563.17 254.56 C564.17 254.74 565.18 254.92 566.18 255.11 C567.18 255.29 568.19 255.47 569.19 255.65 C570.19 255.84 571.19 256.02 572.20 256.20 C573.20 256.38 574.20 256.56 575.20 256.74 C576.21 256.92 577.21 257.10 578.21 257.28 C579.22 257.46 580.22 257.64 581.22 257.82 C582.22 258.00 583.23 258.18 584.23 258.36 C585.23 258.54 586.23 258.72 587.24 258.90 C588.24 259.08 589.24 259.25 590.25 259.43 C591.25 259.61 592.25 259.79 593.25 259.97 C594.26 260.14 595.26 260.32 596.26 260.50 C597.27 260.67 598.27 260.85 599.27 261.03 C600.27 261.20 601.28 261.38 602.28 261.56 C603.28 261.73 604.28 261.91 605.29 262.09 C606.29 262.26 607.29 262.44 608.30 262.61 C609.30 262.79 610.30 262.96 611.30 263.14 C612.31 263.31 613.31 263.49 614.31 263.66 C615.31 263.84 616.32 264.01 617.32 264.19 C618.32 264.36 619.33 264.54 620.33 264.71 C621.33 264.88 622.33 265.06 623.34 265.23 C624.34 265.41 625.34 265.58 626.34 265.75 C627.35 265.93 628.35 266.10 629.35 266.28 C630.36 266.45 631.36 266.62 632.36 266.80 C633.36 266.97 634.37 267.14 635.37 267.32 C636.37 267.49 637.37 267.66 638.38 267.84 C639.38 268.01 640.38 268.18 641.39 268.36 C642.39 268.53 643.39 268.70 644.39 268.88 C645.40 269.05 646.40 269.22 647.40 269.40 C648.40 269.57 649.41 269.74 650.41 269.91 C651.41 270.09 652.42 270.26 653.42 270.43 C654.42 270.60 655.42 270.78 656.43 270.95 C657.43 271.12 658.43 271.29 659.43 271.47 C660.44 271.64 661.44 271.81 662.44 271.98 C663.45 272.15 664.45 272.33 665.45 272.50 C666.45 272.67 667.46 272.84 668.46 273.01 C669.46 273.18 670.46 273.35 671.47 273.52 C672.47 273.69 673.47 273.86 674.48 274.03 C675.48 274.20 676.48 274.37 677.48 274.54 C678.49 274.71 679.49 274.88 680.49 275.05 C681.49 275.22 682.50 275.39 683.50 275.55 C684.50 275.72 685.51 275.89 686.51 276.06 C687.51 276.22 688.51 276.39 689.52 276.56 C690.52 276.73 691.52 276.89 692.52 277.06 C693.53 277.22 694.53 277.39 695.53 277.55 C696.54 277.72 697.54 277.88 698.54 278.05 C699.54 278.21 700.55 278.37 701.55 278.54 C702.55 278.70 703.55 278.86 704.56 279.03 C705.56 279.19 706.56 279.35 707.57 279.51 C708.57 279.67 709.57 279.83 710.57 279.99 C711.58 280.15 712.58 280.31 713.58 280.47 C714.58 280.63 715.59 280.79 716.59 280.95 C717.59 281.11 718.60 281.26 719.60 281.42 C720.60 281.58 721.60 281.73 722.61 281.89 C723.61 282.05 724.61 282.20 725.61 282.35 C726.62 282.51 727.62 282.66 728.62 282.82 C729.63 282.97 730.63 283.12 731.63 283.27 C732.63 283.43 733.64 283.58 734.64 283.73 C735.64 283.88 736.64 284.03 737.65 284.18 C738.65 284.33 739.65 284.48 740.66 284.62 C741.66 284.77 742.66 284.92 743.66 285.07 C744.67 285.21 745.67 285.36 746.67 285.50 C747.67 285.65 748.68 285.79 749.68 285.94 C750.68 286.08 751.69 286.22 752.69 286.36 C753.69 286.51 754.69 286.65 755.70 286.79 C756.70 286.93 757.70 287.07 758.70 287.21 C759.71 287.35 760.71 287.49 761.71 287.62 C762.72 287.76 763.72 287.90 764.72 288.03 C765.72 288.17 766.73 288.30 767.73 288.44 C768.73 288.57 769.73 288.70 770.74 288.84 C771.74 288.97 772.74 289.10 773.75 289.23 C774.75 289.36 775.75 289.49 776.75 289.62 C777.76 289.75 778.76 289.88 779.76 290.01 C780.77 290.13 781.77 290.26 782.77 290.38 C783.77 290.51 784.78 290.63 785.78 290.76 C786.78 290.88 787.78 291.00 788.79 291.13 C789.79 291.25 790.79 291.37 791.80 291.49 C792.80 291.61 793.80 291.73 794.80 291.85 C795.81 291.96 796.81 292.08 797.81 292.20 C798.81 292.31 799.82 292.43 800.82 292.54 C801.82 292.66 802.83 292.77 803.83 292.88 C804.83 292.99 805.83 293.11 806.84 293.22 C807.84 293.33 808.84 293.44 809.84 293.54 C810.85 293.65 811.85 293.76 812.85 293.87 C813.86 293.97 814.86 294.08 815.86 294.18 C816.86 294.29 817.87 294.39 818.87 294.49 C819.87 294.59 820.87 294.69 821.88 294.79 C822.88 294.89 823.88 294.99 824.89 295.09 C825.89 295.19 826.89 295.29 827.89 295.38 C828.90 295.48 829.90 295.57 830.90 295.66 C831.90 295.76 832.91 295.85 833.91 295.94 C834.91 296.03 835.92 296.12 836.92 296.21 C837.92 296.30 838.92 296.39 839.93 296.48 C840.93 296.56 841.93 296.65 842.93 296.73 C843.94 296.82 844.94 296.90 845.94 296.99 C846.95 297.07 847.95 297.15 848.95 297.23 C849.95 297.31 850.96 297.39 851.96 297.47 C852.96 297.54 853.96 297.62 854.97 297.70 C855.97 297.77 856.97 297.85 857.98 297.92 C858.98 297.99 859.98 298.07 860.98 298.14 C861.99 298.21 862.99 298.28 863.99 298.35 C864.99 298.41 866.50 298.51 867.00 298.55"/>
<path d="M131.4 35.2 L133.6 35.2 L142.5 42.5 L140 47 L131.4 45 Z" fill="#000"/>
<text class="tk" x="106.2" y="41.3" text-anchor="end">1</text>
<text class="tk" x="106.2" y="140.9" text-anchor="end">0.9</text>
<text class="tk" x="106.2" y="240.4" text-anchor="end">0.8</text>
<text class="tk" x="106.2" y="340.0" text-anchor="end">0.7</text>
<text class="tk" x="106.2" y="439.5" text-anchor="end">0.6</text>
<text class="tk" x="106.2" y="539.1" text-anchor="end">0.5</text>
<text class="tk" x="133.0" y="576.7" text-anchor="middle">0</text>
<text class="tk" x="257.7" y="576.7" text-anchor="middle">200</text>
<text class="tk" x="382.3" y="576.7" text-anchor="middle">400</text>
<text class="tk" x="507.0" y="576.7" text-anchor="middle">600</text>
<text class="tk" x="631.7" y="576.7" text-anchor="middle">800</text>
<text class="tk" x="756.4" y="576.7" text-anchor="middle">1000</text>
<text class="tk" x="881.0" y="576.7" text-anchor="middle">1200</text>
<text class="tt" x="502.3" y="613.9" text-anchor="middle" textLength="117.6" lengthAdjust="spacingAndGlyphs">Time, min</text>
<text class="tt" transform="translate(37.0 362.2) rotate(-90)" textLength="88.6" lengthAdjust="spacingAndGlyphs">Relative</text>
<text class="tt" transform="translate(37.0 258.2) rotate(-90)" textLength="49.3" lengthAdjust="spacingAndGlyphs">flux,</text>
<text class="tt" transform="translate(37.0 201.4) rotate(-90)" textLength="44.6" lengthAdjust="spacingAndGlyphs">f/f0</text>
<text class="cp" x="514.3" y="667.0" text-anchor="middle">(<tspan class="cb" font-size="38">a</tspan>)</text>
<path class="mk" d="M924.3 262.4 L931.3 276.4 L917.3 276.4 Z"/>
<path class="mk" d="M917.1 313.9 L931.5 328.3 M917.1 328.3 L931.5 313.9"/>
<path class="mk" d="M924.3 365.6 L931.5 372.8 L924.3 380.0 L917.1 372.8 Z"/>
<text class="tk" x="939.0" y="277.6" textLength="69.8" lengthAdjust="spacingAndGlyphs">BW30</text>
<text class="tk" x="939.0" y="329.2" textLength="41.2" lengthAdjust="spacingAndGlyphs">XLE</text>
<text class="tk" x="939.0" y="380.9" textLength="29.6" lengthAdjust="spacingAndGlyphs">CK</text>
</g>
<g id="chart-b">
<path d="M126.70 726.10 V1230.80 H893.00" fill="none" stroke="#7f7f7f" stroke-width="2.2" stroke-linejoin="miter"/>
<path class="mk" d="M126.7 719.0 L133.7 733.0 L119.7 733.0 Z M128.2 719.6 L135.2 733.6 L121.2 733.6 Z M130.0 720.2 L137.0 734.2 L123.0 734.2 Z M134.8 759.7 L141.8 773.7 L127.8 773.7 Z M142.0 773.0 L149.0 787.0 L135.0 787.0 Z M149.5 766.3 L156.5 780.3 L142.5 780.3 Z M157.0 773.0 L164.0 787.0 L150.0 787.0 Z M164.5 785.5 L171.5 799.5 L157.5 799.5 Z M172.0 790.0 L179.0 804.0 L165.0 804.0 Z M178.8 795.0 L185.8 809.0 L171.8 809.0 Z M187.5 805.0 L194.5 819.0 L180.5 819.0 Z M195.0 811.4 L202.0 825.4 L188.0 825.4 Z M202.7 828.0 L209.7 842.0 L195.7 842.0 Z M210.3 834.7 L217.3 848.7 L203.3 848.7 Z M218.0 854.0 L225.0 868.0 L211.0 868.0 Z M225.6 846.4 L232.6 860.4 L218.6 860.4 Z M233.4 843.8 L240.4 857.8 L226.4 857.8 Z M240.8 847.3 L247.8 861.3 L233.8 861.3 Z M248.2 843.8 L255.2 857.8 L241.2 857.8 Z M256.0 850.5 L263.0 864.5 L249.0 864.5 Z M263.4 858.6 L270.4 872.6 L256.4 872.6 Z M271.5 867.5 L278.5 881.5 L264.5 881.5 Z M279.0 879.4 L286.0 893.4 L272.0 893.4 Z M286.0 889.4 L293.0 903.4 L279.0 903.4 Z M294.0 891.5 L301.0 905.5 L287.0 905.5 Z M300.9 894.5 L307.9 908.5 L293.9 908.5 Z M308.4 897.9 L315.4 911.9 L301.4 911.9 Z M316.5 897.2 L323.5 911.2 L309.5 911.2 Z M324.0 900.4 L331.0 914.4 L317.0 914.4 Z M331.5 903.5 L338.5 917.5 L324.5 917.5 Z M339.6 906.6 L346.6 920.6 L332.6 920.6 Z M347.1 912.5 L354.1 926.5 L340.1 926.5 Z M354.0 916.0 L361.0 930.0 L347.0 930.0 Z M362.1 912.9 L369.1 926.9 L355.1 926.9 Z M369.6 919.1 L376.6 933.1 L362.6 933.1 Z M377.1 922.9 L384.1 936.9 L370.1 936.9 Z M385.0 922.9 L392.0 936.9 L378.0 936.9 Z M392.6 922.9 L399.6 936.9 L385.6 936.9 Z M400.0 929.0 L407.0 943.0 L393.0 943.0 Z M408.0 937.5 L415.0 951.5 L401.0 951.5 Z M415.5 941.0 L422.5 955.0 L408.5 955.0 Z M424.0 950.6 L431.0 964.6 L417.0 964.6 Z M430.8 945.4 L437.8 959.4 L423.8 959.4 Z M438.2 951.2 L445.2 965.2 L431.2 965.2 Z M445.8 948.5 L452.8 962.5 L438.8 962.5 Z M453.2 954.3 L460.2 968.3 L446.2 968.3 Z M460.8 951.6 L467.8 965.6 L453.8 965.6 Z M468.2 954.8 L475.2 968.8 L461.2 968.8 Z M475.8 960.8 L482.8 974.8 L468.8 974.8 Z M483.9 964.3 L490.9 978.3 L476.9 978.3 Z M491.4 968.0 L498.4 982.0 L484.4 982.0 Z M498.9 971.1 L505.9 985.1 L491.9 985.1 Z M506.4 990.2 L513.4 1004.2 L499.4 1004.2 Z M514.4 990.0 L521.4 1004.0 L507.4 1004.0 Z M521.2 990.0 L528.2 1004.0 L514.2 1004.0 Z M528.8 990.0 L535.8 1004.0 L521.8 1004.0 Z M536.9 985.0 L543.9 999.0 L529.9 999.0 Z M544.4 987.5 L551.4 1001.5 L537.4 1001.5 Z M551.9 985.0 L558.9 999.0 L544.9 999.0 Z M559.0 992.5 L566.0 1006.5 L552.0 1006.5 Z M567.5 1002.5 L574.5 1016.5 L560.5 1016.5 Z M574.0 1005.6 L581.0 1019.6 L567.0 1019.6 Z M581.5 1005.6 L588.5 1019.6 L574.5 1019.6 Z M589.5 1008.8 L596.5 1022.8 L582.5 1022.8 Z M597.5 1008.8 L604.5 1022.8 L590.5 1022.8 Z M606.2 1006.6 L613.2 1020.6 L599.2 1020.6 Z M613.0 1006.6 L620.0 1020.6 L606.0 1020.6 Z M620.6 1009.5 L627.6 1023.5 L613.6 1023.5 Z M628.4 1018.0 L635.4 1032.0 L621.4 1032.0 Z M635.0 1015.0 L642.0 1029.0 L628.0 1029.0 Z M643.0 1019.5 L650.0 1033.5 L636.0 1033.5 Z M650.5 1019.5 L657.5 1033.5 L643.5 1033.5 Z M658.0 1025.0 L665.0 1039.0 L651.0 1039.0 Z M666.0 1022.5 L673.0 1036.5 L659.0 1036.5 Z M673.6 1019.8 L680.6 1033.8 L666.6 1033.8 Z M681.0 1019.8 L688.0 1033.8 L674.0 1033.8 Z M688.6 1022.9 L695.6 1036.9 L681.6 1036.9 Z M696.0 1029.0 L703.0 1043.0 L689.0 1043.0 Z M703.6 1029.5 L710.6 1043.5 L696.6 1043.5 Z M711.8 1032.9 L718.8 1046.9 L704.8 1046.9 Z M719.2 1036.0 L726.2 1050.0 L712.2 1050.0 Z M726.8 1041.2 L733.8 1055.2 L719.8 1055.2 Z M734.2 1045.0 L741.2 1059.0 L727.2 1059.0 Z M741.8 1042.2 L748.8 1056.2 L734.8 1056.2 Z M749.2 1042.9 L756.2 1056.9 L742.2 1056.9 Z M757.4 1039.0 L764.4 1053.0 L750.4 1053.0 Z M765.0 1042.2 L772.0 1056.2 L758.0 1056.2 Z M772.2 1049.5 L779.2 1063.5 L765.2 1063.5 Z M779.8 1051.5 L786.8 1065.5 L772.8 1065.5 Z M787.2 1051.5 L794.2 1065.5 L780.2 1065.5 Z M795.4 1055.0 L802.4 1069.0 L788.4 1069.0 Z M802.9 1052.2 L809.9 1066.2 L795.9 1066.2 Z M810.4 1056.0 L817.4 1070.0 L803.4 1070.0 Z M817.9 1058.5 L824.9 1072.5 L810.9 1072.5 Z M825.4 1058.5 L832.4 1072.5 L818.4 1072.5 Z M833.5 1061.5 L840.5 1075.5 L826.5 1075.5 Z M841.0 1061.2 L848.0 1075.2 L834.0 1075.2 Z M848.5 1061.2 L855.5 1075.2 L841.5 1075.2 Z M856.0 1063.8 L863.0 1077.8 L849.0 1077.8 Z M863.5 1070.6 L870.5 1084.6 L856.5 1084.6 Z M871.0 1064.8 L878.0 1078.8 L864.0 1078.8 Z M878.8 1067.5 L885.8 1081.5 L871.8 1081.5 Z"/>
<path class="mk" d="M119.5 718.9 L133.9 733.3 M119.5 733.3 L133.9 718.9 M127.2 742.8 L141.6 757.2 M127.2 757.2 L141.6 742.8 M134.8 767.8 L149.2 782.2 M134.8 782.2 L149.2 767.8 M142.5 792.8 L156.9 807.2 M142.5 807.2 L156.9 792.8 M150.1 805.3 L164.5 819.7 M150.1 819.7 L164.5 805.3 M157.8 832.8 L172.2 847.2 M157.8 847.2 L172.2 832.8 M165.5 852.8 L179.9 867.2 M165.5 867.2 L179.9 852.8 M173.1 865.3 L187.5 879.7 M173.1 879.7 L187.5 865.3 M180.8 875.3 L195.2 889.7 M180.8 889.7 L195.2 875.3 M188.4 890.3 L202.8 904.7 M188.4 904.7 L202.8 890.3 M196.1 897.8 L210.5 912.2 M196.1 912.2 L210.5 897.8 M203.8 900.3 L218.2 914.7 M203.8 914.7 L218.2 900.3 M211.4 905.3 L225.8 919.7 M211.4 919.7 L225.8 905.3 M219.1 910.3 L233.5 924.7 M219.1 924.7 L233.5 910.3 M226.7 917.8 L241.1 932.2 M226.7 932.2 L241.1 917.8 M234.4 920.3 L248.8 934.7 M234.4 934.7 L248.8 920.3 M242.1 922.8 L256.5 937.2 M242.1 937.2 L256.5 922.8 M249.7 927.8 L264.1 942.2 M249.7 942.2 L264.1 927.8 M257.4 935.3 L271.8 949.7 M257.4 949.7 L271.8 935.3 M265.0 940.3 L279.4 954.7 M265.0 954.7 L279.4 940.3 M272.7 942.8 L287.1 957.2 M272.7 957.2 L287.1 942.8 M280.4 947.8 L294.8 962.2 M280.4 962.2 L294.8 947.8 M288.0 955.3 L302.4 969.7 M288.0 969.7 L302.4 955.3 M295.7 955.3 L310.1 969.7 M295.7 969.7 L310.1 955.3 M303.3 960.3 L317.7 974.7 M303.3 974.7 L317.7 960.3 M311.0 962.8 L325.4 977.2 M311.0 977.2 L325.4 962.8 M318.7 962.8 L333.1 977.2 M318.7 977.2 L333.1 962.8 M326.3 967.8 L340.7 982.2 M326.3 982.2 L340.7 967.8 M334.0 980.3 L348.4 994.7 M334.0 994.7 L348.4 980.3 M341.6 982.8 L356.0 997.2 M341.6 997.2 L356.0 982.8 M349.3 987.8 L363.7 1002.2 M349.3 1002.2 L363.7 987.8 M357.0 985.3 L371.4 999.7 M357.0 999.7 L371.4 985.3 M364.6 987.8 L379.0 1002.2 M364.6 1002.2 L379.0 987.8 M372.3 992.8 L386.7 1007.2 M372.3 1007.2 L386.7 992.8 M379.9 995.3 L394.3 1009.7 M379.9 1009.7 L394.3 995.3 M387.6 997.8 L402.0 1012.2 M387.6 1012.2 L402.0 997.8 M395.3 1000.3 L409.7 1014.7 M395.3 1014.7 L409.7 1000.3 M402.9 1005.3 L417.3 1019.7 M402.9 1019.7 L417.3 1005.3 M410.6 1007.8 L425.0 1022.2 M410.6 1022.2 L425.0 1007.8 M418.2 1007.8 L432.6 1022.2 M418.2 1022.2 L432.6 1007.8 M425.9 1002.8 L440.3 1017.2 M425.9 1017.2 L440.3 1002.8 M433.6 1007.8 L448.0 1022.2 M433.6 1022.2 L448.0 1007.8 M441.2 1015.3 L455.6 1029.7 M441.2 1029.7 L455.6 1015.3 M448.9 1017.8 L463.3 1032.2 M448.9 1032.2 L463.3 1017.8 M456.5 1022.8 L470.9 1037.2 M456.5 1037.2 L470.9 1022.8 M464.2 1022.8 L478.6 1037.2 M464.2 1037.2 L478.6 1022.8 M471.9 1022.8 L486.3 1037.2 M471.9 1037.2 L486.3 1022.8 M479.5 1035.3 L493.9 1049.7 M479.5 1049.7 L493.9 1035.3 M487.2 1040.3 L501.6 1054.7 M487.2 1054.7 L501.6 1040.3 M494.8 1045.3 L509.2 1059.7 M494.8 1059.7 L509.2 1045.3 M502.5 1042.8 L516.9 1057.2 M502.5 1057.2 L516.9 1042.8 M510.2 1045.3 L524.6 1059.7 M510.2 1059.7 L524.6 1045.3 M517.8 1045.3 L532.2 1059.7 M517.8 1059.7 L532.2 1045.3 M525.5 1045.3 L539.9 1059.7 M525.5 1059.7 L539.9 1045.3 M533.1 1045.3 L547.5 1059.7 M533.1 1059.7 L547.5 1045.3 M540.8 1047.8 L555.2 1062.2 M540.8 1062.2 L555.2 1047.8 M548.5 1052.8 L562.9 1067.2 M548.5 1067.2 L562.9 1052.8 M556.1 1052.8 L570.5 1067.2 M556.1 1067.2 L570.5 1052.8 M563.8 1060.3 L578.2 1074.7 M563.8 1074.7 L578.2 1060.3 M571.4 1057.8 L585.8 1072.2 M571.4 1072.2 L585.8 1057.8 M579.1 1062.8 L593.5 1077.2 M579.1 1077.2 L593.5 1062.8 M586.8 1062.8 L601.2 1077.2 M586.8 1077.2 L601.2 1062.8 M594.4 1065.3 L608.8 1079.7 M594.4 1079.7 L608.8 1065.3 M602.1 1065.3 L616.5 1079.7 M602.1 1079.7 L616.5 1065.3 M609.7 1070.3 L624.1 1084.7 M609.7 1084.7 L624.1 1070.3 M617.4 1067.8 L631.8 1082.2 M617.4 1082.2 L631.8 1067.8 M625.1 1070.3 L639.5 1084.7 M625.1 1084.7 L639.5 1070.3 M632.7 1072.8 L647.1 1087.2 M632.7 1087.2 L647.1 1072.8 M640.4 1075.3 L654.8 1089.7 M640.4 1089.7 L654.8 1075.3 M648.0 1077.8 L662.4 1092.2 M648.0 1092.2 L662.4 1077.8 M655.7 1082.8 L670.1 1097.2 M655.7 1097.2 L670.1 1082.8 M663.4 1082.8 L677.8 1097.2 M663.4 1097.2 L677.8 1082.8 M671.0 1080.3 L685.4 1094.7 M671.0 1094.7 L685.4 1080.3 M678.7 1080.3 L693.1 1094.7 M678.7 1094.7 L693.1 1080.3 M686.3 1082.8 L700.7 1097.2 M686.3 1097.2 L700.7 1082.8 M694.0 1087.8 L708.4 1102.2 M694.0 1102.2 L708.4 1087.8 M701.7 1090.3 L716.1 1104.7 M701.7 1104.7 L716.1 1090.3 M709.3 1090.3 L723.7 1104.7 M709.3 1104.7 L723.7 1090.3 M717.0 1092.8 L731.4 1107.2 M717.0 1107.2 L731.4 1092.8 M724.6 1100.3 L739.0 1114.7 M724.6 1114.7 L739.0 1100.3 M732.3 1097.8 L746.7 1112.2 M732.3 1112.2 L746.7 1097.8 M740.0 1095.3 L754.4 1109.7 M740.0 1109.7 L754.4 1095.3 M747.6 1092.8 L762.0 1107.2 M747.6 1107.2 L762.0 1092.8 M755.3 1095.3 L769.7 1109.7 M755.3 1109.7 L769.7 1095.3 M762.9 1095.3 L777.3 1109.7 M762.9 1109.7 L777.3 1095.3 M770.6 1095.3 L785.0 1109.7 M770.6 1109.7 L785.0 1095.3 M778.3 1105.3 L792.7 1119.7 M778.3 1119.7 L792.7 1105.3 M785.9 1107.8 L800.3 1122.2 M785.9 1122.2 L800.3 1107.8 M793.6 1107.8 L808.0 1122.2 M793.6 1122.2 L808.0 1107.8 M801.2 1107.8 L815.6 1122.2 M801.2 1122.2 L815.6 1107.8 M808.9 1097.8 L823.3 1112.2 M808.9 1112.2 L823.3 1097.8 M816.6 1100.3 L831.0 1114.7 M816.6 1114.7 L831.0 1100.3 M824.2 1100.3 L838.6 1114.7 M824.2 1114.7 L838.6 1100.3 M121.1 719.2 L135.5 733.6 M121.1 733.6 L135.5 719.2 M122.8 719.8 L137.2 734.2 M122.8 734.2 L137.2 719.8 M833.3 1112.8 L847.7 1127.2 M833.3 1127.2 L847.7 1112.8 M838.8 1117.8 L853.2 1132.2 M838.8 1132.2 L853.2 1117.8 M845.8 1093.8 L860.2 1108.2 M845.8 1108.2 L860.2 1093.8 M850.0 1096.8 L864.4 1111.2 M850.0 1111.2 L864.4 1096.8 M856.3 1103.8 L870.7 1118.2 M856.3 1118.2 L870.7 1103.8 M863.8 1105.8 L878.2 1120.2 M863.8 1120.2 L878.2 1105.8 M871.3 1102.8 L885.7 1117.2 M871.3 1117.2 L885.7 1102.8 M873.8 1103.4 L888.2 1117.8 M873.8 1117.8 L888.2 1103.4"/>
<path class="mk" d="M126.7 718.8 L133.9 726.0 L126.7 733.2 L119.5 726.0 Z M128.5 719.3 L135.7 726.5 L128.5 733.7 L121.3 726.5 Z M130.5 720.1 L137.7 727.3 L130.5 734.5 L123.3 727.3 Z M136.8 723.4 L143.9 730.6 L136.8 737.8 L129.6 730.6 Z M143.0 733.2 L150.2 740.4 L143.0 747.6 L135.8 740.4 Z M288.0 730.3 L295.2 737.5 L288.0 744.7 L280.8 737.5 Z M295.5 735.3 L302.7 742.5 L295.5 749.7 L288.3 742.5 Z M303.0 742.3 L310.2 749.5 L303.0 756.7 L295.8 749.5 Z M311.8 735.8 L318.9 743.0 L311.8 750.2 L304.6 743.0 Z M488.5 724.0 L495.7 731.2 L488.5 738.5 L481.3 731.2 Z M496.5 724.5 L503.7 731.8 L496.5 739.0 L489.3 731.8 Z M504.0 726.0 L511.2 733.2 L504.0 740.5 L496.8 733.2 Z M512.0 726.5 L519.2 733.8 L512.0 741.0 L504.8 733.8 Z M666.2 731.5 L673.5 738.8 L666.2 746.0 L659.0 738.8 Z M674.5 740.8 L681.7 748.0 L674.5 755.2 L667.3 748.0 Z M682.5 744.0 L689.7 751.2 L682.5 758.5 L675.3 751.2 Z M690.0 749.0 L697.2 756.2 L690.0 763.5 L682.8 756.2 Z M867.1 743.7 L874.3 750.9 L867.1 758.1 L859.9 750.9 Z M874.9 741.3 L882.1 748.5 L874.9 755.7 L867.7 748.5 Z M882.7 746.4 L889.9 753.6 L882.7 760.8 L875.5 753.6 Z M890.5 751.1 L897.7 758.3 L890.5 765.5 L883.3 758.3 Z"/>
<path class="ln" d="M127.00 733.50 L890.00 751.25"/>
<path class="ln" d="M127.30 728.02 C127.80 728.86 129.30 731.63 130.30 733.09 C131.30 734.54 132.30 735.57 133.30 736.77 C134.30 737.98 135.30 739.08 136.30 740.32 C137.30 741.55 138.30 742.80 139.30 744.18 C140.30 745.55 141.30 747.03 142.30 748.55 C143.30 750.07 144.30 751.70 145.30 753.29 C146.30 754.88 147.30 756.52 148.30 758.09 C149.30 759.66 150.30 761.23 151.30 762.74 C152.30 764.25 153.30 765.72 154.30 767.16 C155.30 768.60 156.30 770.01 157.30 771.39 C158.30 772.77 159.30 774.13 160.30 775.46 C161.30 776.79 162.30 778.10 163.30 779.39 C164.30 780.68 165.30 781.95 166.30 783.20 C167.30 784.45 168.30 785.68 169.30 786.90 C170.30 788.12 171.30 789.33 172.30 790.52 C173.30 791.71 174.30 792.88 175.30 794.04 C176.30 795.21 177.30 796.36 178.30 797.50 C179.30 798.64 180.30 799.76 181.30 800.88 C182.30 801.99 183.30 803.10 184.30 804.19 C185.30 805.29 186.30 806.37 187.30 807.44 C188.30 808.52 189.30 809.58 190.30 810.63 C191.30 811.69 192.30 812.73 193.30 813.77 C194.30 814.81 195.30 815.83 196.30 816.85 C197.30 817.87 198.30 818.88 199.30 819.89 C200.30 820.89 201.30 821.88 202.30 822.87 C203.30 823.86 204.30 824.84 205.30 825.81 C206.30 826.78 207.30 827.75 208.30 828.71 C209.30 829.66 210.30 830.61 211.30 831.56 C212.30 832.50 213.30 833.44 214.30 834.37 C215.30 835.30 216.30 836.23 217.30 837.14 C218.30 838.06 219.30 838.97 220.30 839.88 C221.30 840.78 222.30 841.68 223.30 842.57 C224.30 843.46 225.30 844.34 226.30 845.22 C227.30 846.10 228.30 846.97 229.30 847.84 C230.30 848.70 231.30 849.56 232.30 850.41 C233.30 851.27 234.30 852.11 235.30 852.95 C236.30 853.79 237.30 854.62 238.30 855.45 C239.30 856.28 240.30 857.10 241.30 857.91 C242.30 858.73 243.30 859.54 244.30 860.34 C245.30 861.14 246.30 861.94 247.30 862.73 C248.30 863.52 249.30 864.30 250.30 865.08 C251.30 865.86 252.30 866.63 253.30 867.40 C254.30 868.16 255.30 868.92 256.30 869.68 C257.30 870.43 258.30 871.18 259.30 871.92 C260.30 872.67 261.30 873.40 262.30 874.13 C263.30 874.86 264.30 875.59 265.30 876.31 C266.30 877.03 267.30 877.74 268.30 878.45 C269.30 879.16 270.30 879.86 271.30 880.55 C272.30 881.25 273.30 881.94 274.30 882.63 C275.30 883.31 276.30 883.99 277.30 884.66 C278.30 885.34 279.30 886.01 280.30 886.67 C281.30 887.33 282.30 887.99 283.30 888.64 C284.30 889.29 285.30 889.94 286.30 890.58 C287.30 891.22 288.30 891.85 289.30 892.48 C290.30 893.11 291.30 893.74 292.30 894.35 C293.30 894.97 294.30 895.59 295.30 896.19 C296.30 896.80 297.30 897.40 298.30 898.00 C299.30 898.60 300.30 899.19 301.30 899.78 C302.30 900.36 303.30 900.94 304.30 901.52 C305.30 902.10 306.30 902.67 307.30 903.23 C308.30 903.80 309.30 904.36 310.30 904.91 C311.30 905.47 312.30 906.02 313.30 906.56 C314.30 907.11 315.30 907.65 316.30 908.18 C317.30 908.72 318.30 909.25 319.30 909.77 C320.30 910.30 321.30 910.82 322.30 911.33 C323.30 911.85 324.30 912.36 325.30 912.86 C326.30 913.37 327.30 913.87 328.30 914.36 C329.30 914.86 330.30 915.35 331.30 915.84 C332.30 916.33 333.30 916.81 334.30 917.29 C335.30 917.77 336.30 918.25 337.30 918.72 C338.30 919.20 339.30 919.66 340.30 920.13 C341.30 920.59 342.30 921.05 343.30 921.51 C344.30 921.97 345.30 922.42 346.30 922.87 C347.30 923.32 348.30 923.77 349.30 924.22 C350.30 924.66 351.30 925.10 352.30 925.54 C353.30 925.98 354.30 926.41 355.30 926.84 C356.30 927.27 357.30 927.70 358.30 928.13 C359.30 928.55 360.30 928.98 361.30 929.40 C362.30 929.82 363.30 930.23 364.30 930.65 C365.30 931.06 366.30 931.48 367.30 931.89 C368.30 932.30 369.30 932.70 370.30 933.11 C371.30 933.51 372.30 933.92 373.30 934.32 C374.30 934.72 375.30 935.11 376.30 935.51 C377.30 935.91 378.30 936.30 379.30 936.69 C380.30 937.08 381.30 937.47 382.30 937.86 C383.30 938.25 384.30 938.63 385.30 939.02 C386.30 939.40 387.30 939.78 388.30 940.16 C389.30 940.54 390.30 940.92 391.30 941.30 C392.30 941.67 393.30 942.05 394.30 942.42 C395.30 942.79 396.30 943.16 397.30 943.53 C398.30 943.90 399.30 944.27 400.30 944.64 C401.30 945.01 402.30 945.37 403.30 945.73 C404.30 946.10 405.30 946.46 406.30 946.82 C407.30 947.18 408.30 947.54 409.30 947.90 C410.30 948.26 411.30 948.62 412.30 948.97 C413.30 949.33 414.30 949.69 415.30 950.04 C416.30 950.39 417.30 950.75 418.30 951.10 C419.30 951.45 420.30 951.80 421.30 952.15 C422.30 952.50 423.30 952.85 424.30 953.20 C425.30 953.55 426.30 953.89 427.30 954.24 C428.30 954.59 429.30 954.93 430.30 955.28 C431.30 955.62 432.30 955.96 433.30 956.31 C434.30 956.65 435.30 956.99 436.30 957.33 C437.30 957.68 438.30 958.02 439.30 958.36 C440.30 958.70 441.30 959.04 442.30 959.38 C443.30 959.71 444.30 960.05 445.30 960.39 C446.30 960.73 447.30 961.07 448.30 961.40 C449.30 961.74 450.30 962.08 451.30 962.41 C452.30 962.75 453.30 963.08 454.30 963.42 C455.30 963.75 456.30 964.09 457.30 964.42 C458.30 964.76 459.30 965.09 460.30 965.42 C461.30 965.76 462.30 966.09 463.30 966.42 C464.30 966.75 465.30 967.08 466.30 967.42 C467.30 967.75 468.30 968.08 469.30 968.41 C470.30 968.74 471.30 969.07 472.30 969.40 C473.30 969.73 474.30 970.06 475.30 970.39 C476.30 970.71 477.30 971.04 478.30 971.37 C479.30 971.70 480.30 972.03 481.30 972.35 C482.30 972.68 483.30 973.01 484.30 973.33 C485.30 973.66 486.30 973.99 487.30 974.31 C488.30 974.64 489.30 974.97 490.30 975.29 C491.30 975.62 492.30 975.94 493.30 976.27 C494.30 976.59 495.30 976.91 496.30 977.24 C497.30 977.56 498.30 977.89 499.30 978.21 C500.30 978.53 501.30 978.86 502.30 979.18 C503.30 979.50 504.30 979.82 505.30 980.15 C506.30 980.47 507.30 980.79 508.30 981.11 C509.30 981.43 510.30 981.75 511.30 982.08 C512.30 982.40 513.30 982.72 514.30 983.04 C515.30 983.36 516.30 983.68 517.30 984.00 C518.30 984.32 519.30 984.64 520.30 984.96 C521.30 985.28 522.30 985.60 523.30 985.92 C524.30 986.24 525.30 986.56 526.30 986.87 C527.30 987.19 528.30 987.51 529.30 987.83 C530.30 988.15 531.30 988.47 532.30 988.78 C533.30 989.10 534.30 989.42 535.30 989.74 C536.30 990.06 537.30 990.37 538.30 990.69 C539.30 991.01 540.30 991.32 541.30 991.64 C542.30 991.96 543.30 992.27 544.30 992.59 C545.30 992.91 546.30 993.22 547.30 993.54 C548.30 993.86 549.30 994.17 550.30 994.49 C551.30 994.80 552.30 995.12 553.30 995.44 C554.30 995.75 555.30 996.07 556.30 996.38 C557.30 996.70 558.30 997.01 559.30 997.33 C560.30 997.64 561.30 997.96 562.30 998.27 C563.30 998.59 564.30 998.90 565.30 999.22 C566.30 999.53 567.30 999.85 568.30 1000.16 C569.30 1000.48 570.30 1000.79 571.30 1001.10 C572.30 1001.42 573.30 1001.73 574.30 1002.05 C575.30 1002.36 576.30 1002.67 577.30 1002.99 C578.30 1003.30 579.30 1003.62 580.30 1003.93 C581.30 1004.24 582.30 1004.56 583.30 1004.87 C584.30 1005.18 585.30 1005.50 586.30 1005.81 C587.30 1006.12 588.30 1006.44 589.30 1006.75 C590.30 1007.06 591.30 1007.38 592.30 1007.69 C593.30 1008.00 594.30 1008.32 595.30 1008.63 C596.30 1008.94 597.30 1009.26 598.30 1009.57 C599.30 1009.88 600.30 1010.19 601.30 1010.51 C602.30 1010.82 603.30 1011.13 604.30 1011.45 C605.30 1011.76 606.30 1012.07 607.30 1012.38 C608.30 1012.70 609.30 1013.01 610.30 1013.32 C611.30 1013.63 612.30 1013.95 613.30 1014.26 C614.30 1014.57 615.30 1014.88 616.30 1015.19 C617.30 1015.51 618.30 1015.82 619.30 1016.13 C620.30 1016.44 621.30 1016.75 622.30 1017.06 C623.30 1017.37 624.30 1017.68 625.30 1018.00 C626.30 1018.31 627.30 1018.62 628.30 1018.93 C629.30 1019.24 630.30 1019.55 631.30 1019.86 C632.30 1020.17 633.30 1020.47 634.30 1020.78 C635.30 1021.09 636.30 1021.40 637.30 1021.71 C638.30 1022.02 639.30 1022.32 640.30 1022.63 C641.30 1022.94 642.30 1023.25 643.30 1023.55 C644.30 1023.86 645.30 1024.16 646.30 1024.47 C647.30 1024.78 648.30 1025.08 649.30 1025.39 C650.30 1025.69 651.30 1025.99 652.30 1026.30 C653.30 1026.60 654.30 1026.91 655.30 1027.21 C656.30 1027.51 657.30 1027.81 658.30 1028.11 C659.30 1028.42 660.30 1028.72 661.30 1029.02 C662.30 1029.32 663.30 1029.62 664.30 1029.92 C665.30 1030.22 666.30 1030.52 667.30 1030.81 C668.30 1031.11 669.30 1031.41 670.30 1031.71 C671.30 1032.00 672.30 1032.30 673.30 1032.60 C674.30 1032.89 675.30 1033.19 676.30 1033.48 C677.30 1033.78 678.30 1034.07 679.30 1034.36 C680.30 1034.65 681.30 1034.95 682.30 1035.24 C683.30 1035.53 684.30 1035.82 685.30 1036.11 C686.30 1036.40 687.30 1036.69 688.30 1036.98 C689.30 1037.27 690.30 1037.56 691.30 1037.84 C692.30 1038.13 693.30 1038.42 694.30 1038.70 C695.30 1038.99 696.30 1039.27 697.30 1039.55 C698.30 1039.84 699.30 1040.12 700.30 1040.40 C701.30 1040.69 702.30 1040.97 703.30 1041.25 C704.30 1041.53 705.30 1041.81 706.30 1042.09 C707.30 1042.37 708.30 1042.64 709.30 1042.92 C710.30 1043.20 711.30 1043.47 712.30 1043.75 C713.30 1044.02 714.30 1044.30 715.30 1044.57 C716.30 1044.84 717.30 1045.12 718.30 1045.39 C719.30 1045.66 720.30 1045.93 721.30 1046.20 C722.30 1046.47 723.30 1046.74 724.30 1047.01 C725.30 1047.27 726.30 1047.54 727.30 1047.81 C728.30 1048.07 729.30 1048.34 730.30 1048.60 C731.30 1048.86 732.30 1049.13 733.30 1049.39 C734.30 1049.65 735.30 1049.91 736.30 1050.17 C737.30 1050.43 738.30 1050.69 739.30 1050.94 C740.30 1051.20 741.30 1051.45 742.30 1051.71 C743.30 1051.96 744.30 1052.22 745.30 1052.47 C746.30 1052.72 747.30 1052.97 748.30 1053.21 C749.30 1053.46 750.30 1053.71 751.30 1053.95 C752.30 1054.20 753.30 1054.44 754.30 1054.68 C755.30 1054.92 756.30 1055.16 757.30 1055.40 C758.30 1055.63 759.30 1055.87 760.30 1056.10 C761.30 1056.33 762.30 1056.56 763.30 1056.79 C764.30 1057.02 765.30 1057.25 766.30 1057.47 C767.30 1057.69 768.30 1057.91 769.30 1058.13 C770.30 1058.35 771.30 1058.57 772.30 1058.78 C773.30 1059.00 774.30 1059.21 775.30 1059.42 C776.30 1059.63 777.30 1059.83 778.30 1060.03 C779.30 1060.24 780.30 1060.44 781.30 1060.64 C782.30 1060.83 783.30 1061.03 784.30 1061.22 C785.30 1061.41 786.30 1061.60 787.30 1061.79 C788.30 1061.97 789.30 1062.16 790.30 1062.34 C791.30 1062.52 792.30 1062.69 793.30 1062.87 C794.30 1063.04 795.30 1063.21 796.30 1063.38 C797.30 1063.54 798.30 1063.71 799.30 1063.87 C800.30 1064.03 801.30 1064.19 802.30 1064.34 C803.30 1064.49 804.30 1064.64 805.30 1064.79 C806.30 1064.94 807.30 1065.08 808.30 1065.22 C809.30 1065.36 810.30 1065.49 811.30 1065.62 C812.30 1065.76 813.30 1065.88 814.30 1066.01 C815.30 1066.13 816.30 1066.25 817.30 1066.37 C818.30 1066.48 819.30 1066.60 820.30 1066.70 C821.30 1066.81 822.30 1066.92 823.30 1067.02 C824.30 1067.12 825.30 1067.21 826.30 1067.31 C827.30 1067.40 828.30 1067.49 829.30 1067.57 C830.30 1067.65 831.30 1067.73 832.30 1067.81 C833.30 1067.88 834.30 1067.95 835.30 1068.02 C836.30 1068.09 837.30 1068.15 838.30 1068.21 C839.30 1068.26 840.30 1068.32 841.30 1068.37 C842.30 1068.41 843.30 1068.46 844.30 1068.50 C845.30 1068.54 846.30 1068.57 847.30 1068.60 C848.30 1068.63 849.30 1068.66 850.30 1068.68 C851.30 1068.70 852.30 1068.71 853.30 1068.73 C854.30 1068.74 855.30 1068.74 856.30 1068.74 C857.30 1068.74 858.30 1068.74 859.30 1068.73 C860.30 1068.72 861.30 1068.71 862.30 1068.69 C863.30 1068.67 864.30 1068.65 865.30 1068.62 C866.30 1068.59 867.30 1068.56 868.30 1068.52 C869.30 1068.48 870.30 1068.44 871.30 1068.39 C872.30 1068.34 873.30 1068.28 874.30 1068.22 C875.30 1068.16 876.80 1068.06 877.30 1068.03"/>
<path class="ln" d="M127.30 728.01 C127.80 729.60 129.30 734.40 130.30 737.57 C131.30 740.74 132.30 743.88 133.30 747.05 C134.30 750.23 135.30 753.41 136.30 756.62 C137.30 759.83 138.30 763.10 139.30 766.31 C140.30 769.52 141.30 772.76 142.30 775.88 C143.30 779.00 144.30 782.08 145.30 785.04 C146.30 788.00 147.30 790.88 148.30 793.63 C149.30 796.37 150.30 799.02 151.30 801.53 C152.30 804.05 153.30 806.42 154.30 808.71 C155.30 811.00 156.30 813.16 157.30 815.27 C158.30 817.39 159.30 819.40 160.30 821.40 C161.30 823.39 162.30 825.32 163.30 827.23 C164.30 829.15 165.30 831.02 166.30 832.90 C167.30 834.77 168.30 836.62 169.30 838.48 C170.30 840.34 171.30 842.18 172.30 844.05 C173.30 845.92 174.30 847.79 175.30 849.68 C176.30 851.57 177.30 853.49 178.30 855.40 C179.30 857.30 180.30 859.22 181.30 861.11 C182.30 863.00 183.30 864.88 184.30 866.72 C185.30 868.56 186.30 870.38 187.30 872.14 C188.30 873.90 189.30 875.63 190.30 877.30 C191.30 878.96 192.30 880.58 193.30 882.13 C194.30 883.69 195.30 885.18 196.30 886.62 C197.30 888.07 198.30 889.45 199.30 890.80 C200.30 892.14 201.30 893.44 202.30 894.69 C203.30 895.95 204.30 897.16 205.30 898.34 C206.30 899.51 207.30 900.65 208.30 901.75 C209.30 902.86 210.30 903.93 211.30 904.97 C212.30 906.01 213.30 907.02 214.30 908.00 C215.30 908.98 216.30 909.94 217.30 910.87 C218.30 911.80 219.30 912.71 220.30 913.59 C221.30 914.48 222.30 915.34 223.30 916.19 C224.30 917.04 225.30 917.86 226.30 918.67 C227.30 919.48 228.30 920.27 229.30 921.05 C230.30 921.83 231.30 922.59 232.30 923.34 C233.30 924.09 234.30 924.83 235.30 925.56 C236.30 926.28 237.30 927.00 238.30 927.70 C239.30 928.41 240.30 929.11 241.30 929.80 C242.30 930.49 243.30 931.17 244.30 931.84 C245.30 932.52 246.30 933.18 247.30 933.85 C248.30 934.51 249.30 935.17 250.30 935.82 C251.30 936.47 252.30 937.12 253.30 937.77 C254.30 938.41 255.30 939.06 256.30 939.69 C257.30 940.33 258.30 940.96 259.30 941.59 C260.30 942.21 261.30 942.83 262.30 943.45 C263.30 944.06 264.30 944.67 265.30 945.28 C266.30 945.88 267.30 946.48 268.30 947.07 C269.30 947.67 270.30 948.25 271.30 948.83 C272.30 949.42 273.30 949.99 274.30 950.56 C275.30 951.13 276.30 951.69 277.30 952.24 C278.30 952.80 279.30 953.35 280.30 953.89 C281.30 954.43 282.30 954.97 283.30 955.50 C284.30 956.02 285.30 956.54 286.30 957.06 C287.30 957.57 288.30 958.08 289.30 958.58 C290.30 959.08 291.30 959.58 292.30 960.07 C293.30 960.55 294.30 961.04 295.30 961.51 C296.30 961.99 297.30 962.46 298.30 962.93 C299.30 963.40 300.30 963.86 301.30 964.32 C302.30 964.78 303.30 965.23 304.30 965.68 C305.30 966.13 306.30 966.58 307.30 967.02 C308.30 967.46 309.30 967.90 310.30 968.33 C311.30 968.77 312.30 969.20 313.30 969.63 C314.30 970.06 315.30 970.48 316.30 970.91 C317.30 971.33 318.30 971.75 319.30 972.17 C320.30 972.59 321.30 973.00 322.30 973.42 C323.30 973.83 324.30 974.24 325.30 974.66 C326.30 975.07 327.30 975.48 328.30 975.88 C329.30 976.29 330.30 976.70 331.30 977.10 C332.30 977.51 333.30 977.91 334.30 978.32 C335.30 978.72 336.30 979.13 337.30 979.53 C338.30 979.93 339.30 980.33 340.30 980.73 C341.30 981.14 342.30 981.54 343.30 981.94 C344.30 982.34 345.30 982.74 346.30 983.14 C347.30 983.54 348.30 983.95 349.30 984.35 C350.30 984.75 351.30 985.15 352.30 985.56 C353.30 985.96 354.30 986.36 355.30 986.76 C356.30 987.17 357.30 987.57 358.30 987.97 C359.30 988.38 360.30 988.78 361.30 989.18 C362.30 989.59 363.30 989.99 364.30 990.39 C365.30 990.80 366.30 991.20 367.30 991.61 C368.30 992.01 369.30 992.41 370.30 992.82 C371.30 993.22 372.30 993.63 373.30 994.03 C374.30 994.44 375.30 994.84 376.30 995.24 C377.30 995.65 378.30 996.05 379.30 996.46 C380.30 996.86 381.30 997.26 382.30 997.67 C383.30 998.07 384.30 998.48 385.30 998.88 C386.30 999.28 387.30 999.69 388.30 1000.09 C389.30 1000.50 390.30 1000.90 391.30 1001.30 C392.30 1001.71 393.30 1002.11 394.30 1002.51 C395.30 1002.92 396.30 1003.32 397.30 1003.72 C398.30 1004.12 399.30 1004.53 400.30 1004.93 C401.30 1005.33 402.30 1005.73 403.30 1006.14 C404.30 1006.54 405.30 1006.94 406.30 1007.34 C407.30 1007.74 408.30 1008.14 409.30 1008.55 C410.30 1008.95 411.30 1009.35 412.30 1009.75 C413.30 1010.15 414.30 1010.55 415.30 1010.95 C416.30 1011.35 417.30 1011.75 418.30 1012.15 C419.30 1012.55 420.30 1012.95 421.30 1013.34 C422.30 1013.74 423.30 1014.14 424.30 1014.54 C425.30 1014.94 426.30 1015.33 427.30 1015.73 C428.30 1016.13 429.30 1016.53 430.30 1016.92 C431.30 1017.32 432.30 1017.72 433.30 1018.11 C434.30 1018.51 435.30 1018.90 436.30 1019.30 C437.30 1019.69 438.30 1020.09 439.30 1020.48 C440.30 1020.88 441.30 1021.27 442.30 1021.66 C443.30 1022.06 444.30 1022.45 445.30 1022.84 C446.30 1023.23 447.30 1023.63 448.30 1024.02 C449.30 1024.41 450.30 1024.80 451.30 1025.19 C452.30 1025.58 453.30 1025.97 454.30 1026.36 C455.30 1026.75 456.30 1027.14 457.30 1027.52 C458.30 1027.91 459.30 1028.30 460.30 1028.68 C461.30 1029.07 462.30 1029.46 463.30 1029.84 C464.30 1030.22 465.30 1030.61 466.30 1030.99 C467.30 1031.37 468.30 1031.75 469.30 1032.13 C470.30 1032.51 471.30 1032.89 472.30 1033.27 C473.30 1033.65 474.30 1034.02 475.30 1034.40 C476.30 1034.78 477.30 1035.15 478.30 1035.52 C479.30 1035.90 480.30 1036.27 481.30 1036.64 C482.30 1037.01 483.30 1037.38 484.30 1037.75 C485.30 1038.12 486.30 1038.48 487.30 1038.85 C488.30 1039.21 489.30 1039.58 490.30 1039.94 C491.30 1040.30 492.30 1040.66 493.30 1041.02 C494.30 1041.38 495.30 1041.74 496.30 1042.09 C497.30 1042.45 498.30 1042.80 499.30 1043.16 C500.30 1043.51 501.30 1043.86 502.30 1044.21 C503.30 1044.56 504.30 1044.91 505.30 1045.25 C506.30 1045.60 507.30 1045.94 508.30 1046.29 C509.30 1046.63 510.30 1046.97 511.30 1047.31 C512.30 1047.65 513.30 1047.98 514.30 1048.32 C515.30 1048.65 516.30 1048.99 517.30 1049.32 C518.30 1049.65 519.30 1049.98 520.30 1050.30 C521.30 1050.63 522.30 1050.96 523.30 1051.28 C524.30 1051.60 525.30 1051.92 526.30 1052.24 C527.30 1052.56 528.30 1052.88 529.30 1053.19 C530.30 1053.51 531.30 1053.82 532.30 1054.13 C533.30 1054.44 534.30 1054.75 535.30 1055.06 C536.30 1055.37 537.30 1055.67 538.30 1055.97 C539.30 1056.27 540.30 1056.57 541.30 1056.87 C542.30 1057.17 543.30 1057.46 544.30 1057.76 C545.30 1058.05 546.30 1058.34 547.30 1058.63 C548.30 1058.92 549.30 1059.20 550.30 1059.49 C551.30 1059.77 552.30 1060.06 553.30 1060.34 C554.30 1060.62 555.30 1060.89 556.30 1061.17 C557.30 1061.45 558.30 1061.72 559.30 1061.99 C560.30 1062.27 561.30 1062.54 562.30 1062.81 C563.30 1063.08 564.30 1063.34 565.30 1063.61 C566.30 1063.87 567.30 1064.14 568.30 1064.40 C569.30 1064.66 570.30 1064.92 571.30 1065.18 C572.30 1065.44 573.30 1065.69 574.30 1065.95 C575.30 1066.20 576.30 1066.46 577.30 1066.71 C578.30 1066.96 579.30 1067.21 580.30 1067.46 C581.30 1067.71 582.30 1067.95 583.30 1068.20 C584.30 1068.45 585.30 1068.69 586.30 1068.93 C587.30 1069.18 588.30 1069.42 589.30 1069.66 C590.30 1069.90 591.30 1070.14 592.30 1070.37 C593.30 1070.61 594.30 1070.85 595.30 1071.08 C596.30 1071.32 597.30 1071.55 598.30 1071.78 C599.30 1072.01 600.30 1072.25 601.30 1072.48 C602.30 1072.71 603.30 1072.93 604.30 1073.16 C605.30 1073.39 606.30 1073.62 607.30 1073.84 C608.30 1074.07 609.30 1074.29 610.30 1074.51 C611.30 1074.74 612.30 1074.96 613.30 1075.18 C614.30 1075.40 615.30 1075.62 616.30 1075.84 C617.30 1076.06 618.30 1076.28 619.30 1076.49 C620.30 1076.71 621.30 1076.93 622.30 1077.14 C623.30 1077.36 624.30 1077.57 625.30 1077.79 C626.30 1078.00 627.30 1078.21 628.30 1078.42 C629.30 1078.64 630.30 1078.85 631.30 1079.06 C632.30 1079.27 633.30 1079.48 634.30 1079.69 C635.30 1079.89 636.30 1080.10 637.30 1080.31 C638.30 1080.52 639.30 1080.72 640.30 1080.93 C641.30 1081.14 642.30 1081.34 643.30 1081.54 C644.30 1081.75 645.30 1081.95 646.30 1082.16 C647.30 1082.36 648.30 1082.56 649.30 1082.77 C650.30 1082.97 651.30 1083.17 652.30 1083.37 C653.30 1083.57 654.30 1083.77 655.30 1083.97 C656.30 1084.17 657.30 1084.37 658.30 1084.57 C659.30 1084.77 660.30 1084.97 661.30 1085.17 C662.30 1085.36 663.30 1085.56 664.30 1085.76 C665.30 1085.96 666.30 1086.15 667.30 1086.35 C668.30 1086.55 669.30 1086.74 670.30 1086.94 C671.30 1087.13 672.30 1087.33 673.30 1087.53 C674.30 1087.72 675.30 1087.92 676.30 1088.11 C677.30 1088.30 678.30 1088.50 679.30 1088.69 C680.30 1088.89 681.30 1089.08 682.30 1089.27 C683.30 1089.47 684.30 1089.66 685.30 1089.85 C686.30 1090.05 687.30 1090.24 688.30 1090.43 C689.30 1090.63 690.30 1090.82 691.30 1091.01 C692.30 1091.20 693.30 1091.39 694.30 1091.59 C695.30 1091.78 696.30 1091.97 697.30 1092.16 C698.30 1092.35 699.30 1092.55 700.30 1092.74 C701.30 1092.93 702.30 1093.12 703.30 1093.31 C704.30 1093.50 705.30 1093.70 706.30 1093.89 C707.30 1094.08 708.30 1094.27 709.30 1094.46 C710.30 1094.65 711.30 1094.84 712.30 1095.04 C713.30 1095.23 714.30 1095.42 715.30 1095.61 C716.30 1095.80 717.30 1095.99 718.30 1096.18 C719.30 1096.37 720.30 1096.56 721.30 1096.75 C722.30 1096.94 723.30 1097.13 724.30 1097.32 C725.30 1097.51 726.30 1097.70 727.30 1097.89 C728.30 1098.08 729.30 1098.27 730.30 1098.46 C731.30 1098.65 732.30 1098.84 733.30 1099.03 C734.30 1099.22 735.30 1099.41 736.30 1099.60 C737.30 1099.79 738.30 1099.98 739.30 1100.17 C740.30 1100.36 741.30 1100.55 742.30 1100.73 C743.30 1100.92 744.30 1101.11 745.30 1101.30 C746.30 1101.49 747.30 1101.68 748.30 1101.86 C749.30 1102.05 750.30 1102.24 751.30 1102.43 C752.30 1102.62 753.30 1102.80 754.30 1102.99 C755.30 1103.18 756.30 1103.37 757.30 1103.55 C758.30 1103.74 759.30 1103.93 760.30 1104.11 C761.30 1104.30 762.30 1104.49 763.30 1104.67 C764.30 1104.86 765.30 1105.05 766.30 1105.23 C767.30 1105.42 768.30 1105.60 769.30 1105.79 C770.30 1105.98 771.30 1106.16 772.30 1106.35 C773.30 1106.53 774.30 1106.72 775.30 1106.90 C776.30 1107.09 777.30 1107.27 778.30 1107.46 C779.30 1107.64 780.30 1107.82 781.30 1108.01 C782.30 1108.19 783.30 1108.38 784.30 1108.56 C785.30 1108.74 786.30 1108.93 787.30 1109.11 C788.30 1109.29 789.30 1109.47 790.30 1109.65 C791.30 1109.82 792.30 1110.00 793.30 1110.17 C794.30 1110.35 795.30 1110.52 796.30 1110.68 C797.30 1110.85 798.30 1111.02 799.30 1111.18 C800.30 1111.34 801.30 1111.49 802.30 1111.65 C803.30 1111.80 804.30 1111.95 805.30 1112.09 C806.30 1112.24 807.30 1112.38 808.30 1112.51 C809.30 1112.64 810.30 1112.77 811.30 1112.89 C812.30 1113.01 813.30 1113.13 814.30 1113.24 C815.30 1113.35 816.30 1113.46 817.30 1113.55 C818.30 1113.65 819.30 1113.74 820.30 1113.82 C821.30 1113.90 822.30 1113.98 823.30 1114.04 C824.30 1114.11 825.30 1114.17 826.30 1114.22 C827.30 1114.27 828.30 1114.31 829.30 1114.35 C830.30 1114.38 831.30 1114.40 832.30 1114.42 C833.30 1114.43 834.30 1114.44 835.30 1114.43 C836.30 1114.43 837.30 1114.41 838.30 1114.39 C839.30 1114.37 840.30 1114.33 841.30 1114.28 C842.30 1114.24 843.30 1114.18 844.30 1114.12 C845.30 1114.05 846.30 1113.97 847.30 1113.88 C848.30 1113.79 849.30 1113.68 850.30 1113.57 C851.30 1113.46 852.30 1113.33 853.30 1113.19 C854.30 1113.05 855.30 1112.90 856.30 1112.74 C857.30 1112.57 858.30 1112.39 859.30 1112.20 C860.30 1112.01 861.30 1111.81 862.30 1111.59 C863.30 1111.37 864.30 1111.14 865.30 1110.89 C866.30 1110.64 867.30 1110.38 868.30 1110.11 C869.30 1109.83 870.30 1109.54 871.30 1109.24 C872.30 1108.93 873.30 1108.61 874.30 1108.28 C875.30 1107.94 876.80 1107.40 877.30 1107.23"/>
<path d="M125.6 726.3 L127.2 726.3 L133 736.5 L129.8 737 L125.6 735.5 Z" fill="#000"/>
<text class="tk" x="99.8" y="734.2" text-anchor="end">1</text>
<text class="tk" x="99.8" y="835.1" text-anchor="end">0.9</text>
<text class="tk" x="99.8" y="936.1" text-anchor="end">0.8</text>
<text class="tk" x="99.8" y="1037.0" text-anchor="end">0.7</text>
<text class="tk" x="99.8" y="1138.0" text-anchor="end">0.6</text>
<text class="tk" x="99.8" y="1238.9" text-anchor="end">0.5</text>
<text class="tk" x="126.7" y="1276.5" text-anchor="middle">0</text>
<text class="tk" x="254.4" y="1276.5" text-anchor="middle">200</text>
<text class="tk" x="382.1" y="1276.5" text-anchor="middle">400</text>
<text class="tk" x="509.9" y="1276.5" text-anchor="middle">600</text>
<text class="tk" x="637.6" y="1276.5" text-anchor="middle">800</text>
<text class="tk" x="765.3" y="1276.5" text-anchor="middle">1000</text>
<text class="tk" x="893.0" y="1276.5" text-anchor="middle">1200</text>
<text class="tt" x="515.5" y="1322.6" text-anchor="middle" textLength="117.6" lengthAdjust="spacingAndGlyphs">Time, min</text>
<text class="tt" transform="translate(34.3 1102.3) rotate(-90)" textLength="88.6" lengthAdjust="spacingAndGlyphs">Relative</text>
<text class="tt" transform="translate(34.3 998.3) rotate(-90)" textLength="49.3" lengthAdjust="spacingAndGlyphs">flux,</text>
<text class="tt" transform="translate(34.3 941.5) rotate(-90)" textLength="44.6" lengthAdjust="spacingAndGlyphs">f/f0</text>
<text class="cp" x="514.0" y="1375.6" text-anchor="middle">(<tspan class="cb" font-size="34.8">b</tspan>)</text>
<path class="mk" d="M934.2 963.3 L941.2 977.3 L927.2 977.3 Z"/>
<path class="mk" d="M927.0 1014.8 L941.4 1029.2 M927.0 1029.2 L941.4 1014.8"/>
<path class="mk" d="M934.2 1066.4 L941.4 1073.6 L934.2 1080.8 L927.0 1073.6 Z"/>
<text class="tk" x="948.8" y="978.6" textLength="69.8" lengthAdjust="spacingAndGlyphs">BW30</text>
<text class="tk" x="948.8" y="1030.2" textLength="41.2" lengthAdjust="spacingAndGlyphs">XLE</text>
<text class="tk" x="948.8" y="1081.8" textLength="29.6" lengthAdjust="spacingAndGlyphs">CK</text>
</g>
</svg>
</body>
</html>
